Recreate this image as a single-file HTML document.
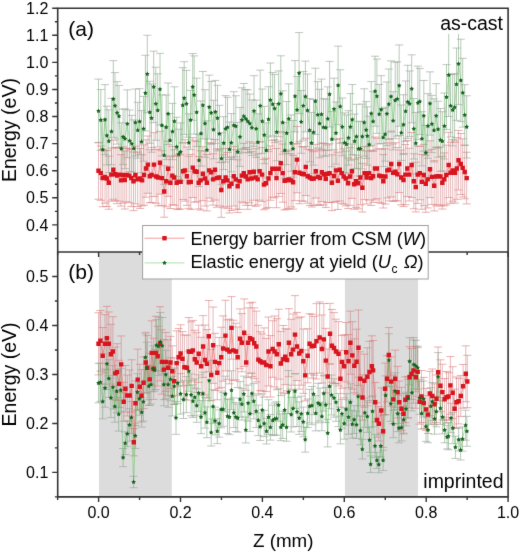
<!DOCTYPE html>
<html><head><meta charset="utf-8"><style>
html,body{margin:0;padding:0;background:#fff;width:520px;height:553px;overflow:hidden}
svg{display:block}
text{font-family:"Liberation Sans",sans-serif}
</style></head><body>
<svg width="520" height="553" viewBox="0 0 520 553">
<defs><filter id="bl" color-interpolation-filters="sRGB" filterUnits="userSpaceOnUse" x="0" y="0" width="520" height="553"><feConvolveMatrix order="3" kernelMatrix="0.01 0.06 0.01 0.06 0.72 0.06 0.01 0.06 0.01" divisor="1" edgeMode="duplicate"/></filter></defs>
<g filter="url(#bl)">
<rect width="520" height="553" fill="#fff"/>
<rect x="99" y="252" width="72.8" height="244.9" fill="#dcdcdc"/>
<rect x="344.9" y="252" width="73.2" height="244.9" fill="#dcdcdc"/>
<defs><clipPath id="ct"><rect x="57.7" y="8.2" width="450.4" height="243.8"/></clipPath>
<clipPath id="cb"><rect x="57.7" y="252" width="450.4" height="244.9"/></clipPath></defs>
<g clip-path="url(#ct)">
<path d="M98.5 142.38V199.22M100.8 145.88V200.32M102.7 149.5V206.7M105 150.68V203.12M106.9 150.48V206.52M108.8 156.18V209.22M111.3 148.06V201.14M113.3 140.34V199.26M115.2 147.69V200.71M117.1 147.52V203.68M119 148.01V201.19M121 154.69V206.11M122.9 146.86V203.14M124.8 150.97V209.03M126.7 148.23V201.77M129.2 148.48V202.72M131.3 149.48V206.52M133.5 151.99V210.61M135.4 146.16V203.84M137.7 152.16V206.64M140.2 148.52V208.48M142.1 154.88V205.92M144 144.88V205.12M146 139.84V197.16M147.9 135.97V193.23M149.8 149.66V202.74M151.7 147.38V202.62M154 132.7V196.5M156.2 149.72V203.28M158.1 149.1V205.9M160 131.32V194.08M161.9 150.74V205.46M164.2 165.79V217.21M166.2 155.86V206.74M168.1 141.28V196.32M170.4 156.87V208.53M172.3 146.4V204.8M174.2 149.79V205.21M176.7 156.4V209M178.7 154.28V209.52M180.6 154.86V208.94M183.1 142.96V199.44M185 139.7V201.1M186.9 147.03V205.37M188.8 156.24V208.36M190.8 154.33V209.47M192.8 137.66V197.54M194.8 140.28V202.12M196.7 141.55V201.85M198.7 156.52V208.88M200.6 150.77V210.03M202.9 146.73V200.67M205 151.01V205.99M206.9 154.48V210.92M209.2 142.72V198.08M211.2 143.38V201.22M213.1 153.75V205.05M215 139.58V200.02M216.9 148.99V207.21M219.2 149.13V205.87M221.3 162.66V217.34M223.3 154.76V207.84M225.6 148.59V206.41M227.5 152.47V208.33M229.4 159.39V213.01M231.5 157.08V210.52M233.8 146.39V206.01M235.8 149.73V209.07M237.7 159.84V212.56M239.6 153.23V209.37M241.9 149.21V201.99M243.8 143.34V202.86M245.8 147.62V205.38M247.7 149.52V209.28M249.6 141.83V202.77M251.5 151.6V205.4M253.8 143.15V200.25M255.8 148.71V206.29M257.7 153.82V204.98M259.6 142.21V200.19M262.1 147.56V201.64M264 159.48V209.72M266 158.21V208.39M268.5 149.45V207.55M270.4 145.98V200.22M272.3 140.39V197.21M274.6 139.71V197.89M276.5 148.51V207.69M278.8 141.18V196.42M280.8 132.72V193.48M282.7 144.04V202.16M284.6 151.67V209.93M286.7 151.24V209.16M288.8 150.09V208.71M291.2 153.86V206.94M293.1 155.49V209.11M294.8 143.98V200.62M297 126.42V192.78M299.4 141.68V203.72M301.9 146.58V200.82M303.8 147.05V201.35M305.8 138.24V195.56M307.7 149.13V203.27M310 149.53V205.47M311.9 150.6V207M313.8 151.7V205.3M315.8 144.34V198.06M318.1 149.12V204.68M320 150.75V205.45M321.9 143.02V201.58M323.8 143.49V204.91M325.8 150.15V207.45M327.7 144.91V202.49M329.6 143.73V202.47M331.9 154.83V210.57M334 149.71V202.29M336 139.21V201.59M337.9 152.13V209.47M339.8 138.61V200.99M341.7 142.9V203.3M343.7 148.77V204.23M345.8 151.09V205.91M348.1 158.02V208.58M350 147.68V205.32M351.9 144.07V198.33M354.2 159.23V209.17M356.2 155.22V207.38M358.1 157.76V208.84M360.4 150.18V204.82M362.3 163.37V212.03M364.6 146.58V199.62M366.7 151.03V203.97M369 146.11V200.09M371.2 150.78V205.42M373.1 150.07V202.33M375 137.07V199.93M376.9 138.3V198.7M379.2 148.82V202.38M381.2 149.05V203.35M383.3 154.61V207.99M385.4 148.9V204.1M387.3 142.85V197.95M389.2 138.73V200.87M391.2 131.13V196.87M393.1 143.96V201.44M395.4 142.69V200.71M397.3 147.47V200.93M399.2 135.47V192.53M401.2 150.17V204.83M403.5 153.45V206.55M405.4 144.54V204.66M407.3 140.45V196.55M409.2 148.22V200.98M411.7 132.53V197.47M413.8 153.82V208.78M415.8 162.28V211.92M417.7 145.84V203.36M419.8 146.45V199.75M421.8 154.53V209.27M423.8 144.33V205.67M425.8 155.33V212.27M427.7 150.83V207.97M430 140.8V197.6M431.9 149.35V204.45M434.2 160.67V210.93M436.2 147.05V205.95M438.1 147.78V204.62M440.4 147.02V205.98M442.3 156.34V209.06M444.2 152.93V205.87M446.3 145.09V204.91M448.7 132.36V197.64M450.6 142.17V203.23M452.7 139.65V201.15M455 142.33V203.07M456.9 137.7V199.3M458.5 130.41V189.99M460.8 133.45V194.55M462.7 138.82V196.98M464.7 145.16V198.84M466.7 152.28V203.92" stroke="rgba(210,115,120,0.5)" stroke-width="1" fill="none"/>
<path d="M94.5 142.38h8M94.5 199.22h8M96.8 145.88h8M96.8 200.32h8M98.7 149.5h8M98.7 206.7h8M101 150.68h8M101 203.12h8M102.9 150.48h8M102.9 206.52h8M104.8 156.18h8M104.8 209.22h8M107.3 148.06h8M107.3 201.14h8M109.3 140.34h8M109.3 199.26h8M111.2 147.69h8M111.2 200.71h8M113.1 147.52h8M113.1 203.68h8M115 148.01h8M115 201.19h8M117 154.69h8M117 206.11h8M118.9 146.86h8M118.9 203.14h8M120.8 150.97h8M120.8 209.03h8M122.7 148.23h8M122.7 201.77h8M125.2 148.48h8M125.2 202.72h8M127.3 149.48h8M127.3 206.52h8M129.5 151.99h8M129.5 210.61h8M131.4 146.16h8M131.4 203.84h8M133.7 152.16h8M133.7 206.64h8M136.2 148.52h8M136.2 208.48h8M138.1 154.88h8M138.1 205.92h8M140 144.88h8M140 205.12h8M142 139.84h8M142 197.16h8M143.9 135.97h8M143.9 193.23h8M145.8 149.66h8M145.8 202.74h8M147.7 147.38h8M147.7 202.62h8M150 132.7h8M150 196.5h8M152.2 149.72h8M152.2 203.28h8M154.1 149.1h8M154.1 205.9h8M156 131.32h8M156 194.08h8M157.9 150.74h8M157.9 205.46h8M160.2 165.79h8M160.2 217.21h8M162.2 155.86h8M162.2 206.74h8M164.1 141.28h8M164.1 196.32h8M166.4 156.87h8M166.4 208.53h8M168.3 146.4h8M168.3 204.8h8M170.2 149.79h8M170.2 205.21h8M172.7 156.4h8M172.7 209h8M174.7 154.28h8M174.7 209.52h8M176.6 154.86h8M176.6 208.94h8M179.1 142.96h8M179.1 199.44h8M181 139.7h8M181 201.1h8M182.9 147.03h8M182.9 205.37h8M184.8 156.24h8M184.8 208.36h8M186.8 154.33h8M186.8 209.47h8M188.8 137.66h8M188.8 197.54h8M190.8 140.28h8M190.8 202.12h8M192.7 141.55h8M192.7 201.85h8M194.7 156.52h8M194.7 208.88h8M196.6 150.77h8M196.6 210.03h8M198.9 146.73h8M198.9 200.67h8M201 151.01h8M201 205.99h8M202.9 154.48h8M202.9 210.92h8M205.2 142.72h8M205.2 198.08h8M207.2 143.38h8M207.2 201.22h8M209.1 153.75h8M209.1 205.05h8M211 139.58h8M211 200.02h8M212.9 148.99h8M212.9 207.21h8M215.2 149.13h8M215.2 205.87h8M217.3 162.66h8M217.3 217.34h8M219.3 154.76h8M219.3 207.84h8M221.6 148.59h8M221.6 206.41h8M223.5 152.47h8M223.5 208.33h8M225.4 159.39h8M225.4 213.01h8M227.5 157.08h8M227.5 210.52h8M229.8 146.39h8M229.8 206.01h8M231.8 149.73h8M231.8 209.07h8M233.7 159.84h8M233.7 212.56h8M235.6 153.23h8M235.6 209.37h8M237.9 149.21h8M237.9 201.99h8M239.8 143.34h8M239.8 202.86h8M241.8 147.62h8M241.8 205.38h8M243.7 149.52h8M243.7 209.28h8M245.6 141.83h8M245.6 202.77h8M247.5 151.6h8M247.5 205.4h8M249.8 143.15h8M249.8 200.25h8M251.8 148.71h8M251.8 206.29h8M253.7 153.82h8M253.7 204.98h8M255.6 142.21h8M255.6 200.19h8M258.1 147.56h8M258.1 201.64h8M260 159.48h8M260 209.72h8M262 158.21h8M262 208.39h8M264.5 149.45h8M264.5 207.55h8M266.4 145.98h8M266.4 200.22h8M268.3 140.39h8M268.3 197.21h8M270.6 139.71h8M270.6 197.89h8M272.5 148.51h8M272.5 207.69h8M274.8 141.18h8M274.8 196.42h8M276.8 132.72h8M276.8 193.48h8M278.7 144.04h8M278.7 202.16h8M280.6 151.67h8M280.6 209.93h8M282.7 151.24h8M282.7 209.16h8M284.8 150.09h8M284.8 208.71h8M287.2 153.86h8M287.2 206.94h8M289.1 155.49h8M289.1 209.11h8M290.8 143.98h8M290.8 200.62h8M293 126.42h8M293 192.78h8M295.4 141.68h8M295.4 203.72h8M297.9 146.58h8M297.9 200.82h8M299.8 147.05h8M299.8 201.35h8M301.8 138.24h8M301.8 195.56h8M303.7 149.13h8M303.7 203.27h8M306 149.53h8M306 205.47h8M307.9 150.6h8M307.9 207h8M309.8 151.7h8M309.8 205.3h8M311.8 144.34h8M311.8 198.06h8M314.1 149.12h8M314.1 204.68h8M316 150.75h8M316 205.45h8M317.9 143.02h8M317.9 201.58h8M319.8 143.49h8M319.8 204.91h8M321.8 150.15h8M321.8 207.45h8M323.7 144.91h8M323.7 202.49h8M325.6 143.73h8M325.6 202.47h8M327.9 154.83h8M327.9 210.57h8M330 149.71h8M330 202.29h8M332 139.21h8M332 201.59h8M333.9 152.13h8M333.9 209.47h8M335.8 138.61h8M335.8 200.99h8M337.7 142.9h8M337.7 203.3h8M339.7 148.77h8M339.7 204.23h8M341.8 151.09h8M341.8 205.91h8M344.1 158.02h8M344.1 208.58h8M346 147.68h8M346 205.32h8M347.9 144.07h8M347.9 198.33h8M350.2 159.23h8M350.2 209.17h8M352.2 155.22h8M352.2 207.38h8M354.1 157.76h8M354.1 208.84h8M356.4 150.18h8M356.4 204.82h8M358.3 163.37h8M358.3 212.03h8M360.6 146.58h8M360.6 199.62h8M362.7 151.03h8M362.7 203.97h8M365 146.11h8M365 200.09h8M367.2 150.78h8M367.2 205.42h8M369.1 150.07h8M369.1 202.33h8M371 137.07h8M371 199.93h8M372.9 138.3h8M372.9 198.7h8M375.2 148.82h8M375.2 202.38h8M377.2 149.05h8M377.2 203.35h8M379.3 154.61h8M379.3 207.99h8M381.4 148.9h8M381.4 204.1h8M383.3 142.85h8M383.3 197.95h8M385.2 138.73h8M385.2 200.87h8M387.2 131.13h8M387.2 196.87h8M389.1 143.96h8M389.1 201.44h8M391.4 142.69h8M391.4 200.71h8M393.3 147.47h8M393.3 200.93h8M395.2 135.47h8M395.2 192.53h8M397.2 150.17h8M397.2 204.83h8M399.5 153.45h8M399.5 206.55h8M401.4 144.54h8M401.4 204.66h8M403.3 140.45h8M403.3 196.55h8M405.2 148.22h8M405.2 200.98h8M407.7 132.53h8M407.7 197.47h8M409.8 153.82h8M409.8 208.78h8M411.8 162.28h8M411.8 211.92h8M413.7 145.84h8M413.7 203.36h8M415.8 146.45h8M415.8 199.75h8M417.8 154.53h8M417.8 209.27h8M419.8 144.33h8M419.8 205.67h8M421.8 155.33h8M421.8 212.27h8M423.7 150.83h8M423.7 207.97h8M426 140.8h8M426 197.6h8M427.9 149.35h8M427.9 204.45h8M430.2 160.67h8M430.2 210.93h8M432.2 147.05h8M432.2 205.95h8M434.1 147.78h8M434.1 204.62h8M436.4 147.02h8M436.4 205.98h8M438.3 156.34h8M438.3 209.06h8M440.2 152.93h8M440.2 205.87h8M442.3 145.09h8M442.3 204.91h8M444.7 132.36h8M444.7 197.64h8M446.6 142.17h8M446.6 203.23h8M448.7 139.65h8M448.7 201.15h8M451 142.33h8M451 203.07h8M452.9 137.7h8M452.9 199.3h8M454.5 130.41h8M454.5 189.99h8M456.8 133.45h8M456.8 194.55h8M458.7 138.82h8M458.7 196.98h8M460.7 145.16h8M460.7 198.84h8M462.7 152.28h8M462.7 203.92h8" stroke="rgba(220,120,120,0.6)" stroke-width="1" fill="none"/>
<polyline points="98.5,170.8 100.8,173.1 102.7,178.1 105,176.9 106.9,178.5 108.8,182.7 111.3,174.6 113.3,169.8 115.2,174.2 117.1,175.6 119,174.6 121,180.4 122.9,175 124.8,180 126.7,175 129.2,175.6 131.3,178 133.5,181.3 135.4,175 137.7,179.4 140.2,178.5 142.1,180.4 144,175 146,168.5 147.9,164.6 149.8,176.2 151.7,175 154,164.6 156.2,176.5 158.1,177.5 160,162.7 161.9,178.1 164.2,191.5 166.2,181.3 168.1,168.8 170.4,182.7 172.3,175.6 174.2,177.5 176.7,182.7 178.7,181.9 180.6,181.9 183.1,171.2 185,170.4 186.9,176.2 188.8,182.3 190.8,181.9 192.8,167.6 194.8,171.2 196.7,171.7 198.7,182.7 200.6,180.4 202.9,173.7 205,178.5 206.9,182.7 209.2,170.4 211.2,172.3 213.1,179.4 215,169.8 216.9,178.1 219.2,177.5 221.3,190 223.3,181.3 225.6,177.5 227.5,180.4 229.4,186.2 231.5,183.8 233.8,176.2 235.8,179.4 237.7,186.2 239.6,181.3 241.9,175.6 243.8,173.1 245.8,176.5 247.7,179.4 249.6,172.3 251.5,178.5 253.8,171.7 255.8,177.5 257.7,179.4 259.6,171.2 262.1,174.6 264,184.6 266,183.3 268.5,178.5 270.4,173.1 272.3,168.8 274.6,168.8 276.5,178.1 278.8,168.8 280.8,163.1 282.7,173.1 284.6,180.8 286.7,180.2 288.8,179.4 291.2,180.4 293.1,182.3 294.8,172.3 297,159.6 299.4,172.7 301.9,173.7 303.8,174.2 305.8,166.9 307.7,176.2 310,177.5 311.9,178.8 313.8,178.5 315.8,171.2 318.1,176.9 320,178.1 321.9,172.3 323.8,174.2 325.8,178.8 327.7,173.7 329.6,173.1 331.9,182.7 334,176 336,170.4 337.9,180.8 339.8,169.8 341.7,173.1 343.7,176.5 345.8,178.5 348.1,183.3 350,176.5 351.9,171.2 354.2,184.2 356.2,181.3 358.1,183.3 360.4,177.5 362.3,187.7 364.6,173.1 366.7,177.5 369,173.1 371.2,178.1 373.1,176.2 375,168.5 376.9,168.5 379.2,175.6 381.2,176.2 383.3,181.3 385.4,176.5 387.3,170.4 389.2,169.8 391.2,164 393.1,172.7 395.4,171.7 397.3,174.2 399.2,164 401.2,177.5 403.5,180 405.4,174.6 407.3,168.5 409.2,174.6 411.7,165 413.8,181.3 415.8,187.1 417.7,174.6 419.8,173.1 421.8,181.9 423.8,175 425.8,183.8 427.7,179.4 430,169.2 431.9,176.9 434.2,185.8 436.2,176.5 438.1,176.2 440.4,176.5 442.3,182.7 444.2,179.4 446.3,175 448.7,165 450.6,172.7 452.7,170.4 455,172.7 456.9,168.5 458.5,160.2 460.8,164 462.7,167.9 464.7,172 466.7,178.1" stroke="rgba(235,90,90,0.6)" stroke-width="1" fill="none"/>
<path d="M98.5 79.13V142.87M100.8 89.55V150.45M102.7 120.99V178.21M105 84.62V154.58M106.9 106.26V164.94M108.8 109.87V172.53M111.5 98.28V164.72M113.3 60.66V137.34M115 72.6V139M117.1 81.69V144.11M119 85.42V146.98M121.3 122.81V174.79M123.1 109.19V164.61M125 108.91V168.69M127.3 89.86V157.74M129.6 109.96V171.64M131.8 115.38V172.02M133.8 119.94V177.06M135.4 88.99V156.01M137.7 102.27V158.13M139.6 88.71V154.29M141.5 110.61V172.79M143.5 96.4V161.2M145.4 55.27V130.93M147.3 35.28V112.72M149.8 81.29V143.31M151.5 83.96V152.24M153.7 51.18V122.62M155.8 67.31V140.29M157.7 73.82V146.98M160 53.35V125.05M161.9 94.83V155.97M164.2 126.1V184.3M166.2 95.02V159.58M168.1 83.05V144.55M170 113.63V167.17M172.5 103.35V159.65M174.4 86.81V155.59M176.7 117.23V176.57M178.7 129.24V179.16M180.6 122.92V180.88M182.7 67.7V142.7M184.2 61.72V134.48M186.5 70.41V137.19M188.8 113.84V171.56M190.6 90.37V149.63M192.7 53.54V120.26M194.2 55.89V134.11M196.7 78.16V146.44M199 134.33V186.47M201 100.94V166.06M202.9 71.44V138.96M205 89.7V157.3M206.9 120.72V179.28M209.2 75.14V139.06M211.2 81.49V144.31M213.5 100.31V158.89M215.4 80.42V143.38M217.5 85.27V150.93M219.4 105.32V162.28M221.5 132.71V184.29M223.7 116.68V169.52M225.6 95.61V161.99M227.5 97.31V157.29M229.6 122.05V176.75M231.3 113.64V171.76M233.8 91.7V159.1M235.8 95.75V156.85M237.7 122.42V181.38M240 107.44V166.36M241.9 87.81V152.19M243.8 83.49V148.91M245.8 89.61V147.79M247.7 89.77V152.63M249.8 94.03V152.97M251.9 99.92V155.48M254 75.67V146.33M256.2 100.14V157.46M257.9 113.81V170.79M260.2 70.14V141.46M262.3 89.03V153.37M264.3 106.3V163.7M266.3 122.87V177.93M268.5 86.73V151.67M270.4 63.02V136.98M272.7 72.55V135.85M274.6 74.38V142.62M276.7 103.44V160.76M278.7 70.92V136.68M280.8 55.81V131.59M282.7 90.84V154.16M284.8 122.63V178.17M286.7 101.51V164.69M288.7 83.86V153.54M291.2 114.9V171.3M293 120.51V177.09M295 60.6V131.8M297.1 76.43V143.57M299.1 32.57V113.63M301.2 90.5V153.3M303.3 71.45V140.15M305.4 61.14V131.86M307.5 74.02V146.78M309.6 98.53V161.87M311.5 112.43V173.77M313.5 99.49V165.11M315.4 68.18V134.42M317.7 81.64V147.96M319.6 89.25V157.75M321.5 79.11V149.29M323.5 98.65V155.95M325.8 99.2V156.2M327.7 86.89V150.51M329.6 61.41V126.99M331.9 111.6V166.8M334 78.23V139.77M336 102.06V164.14M338.1 46.11V124.69M340.2 69.78V143.22M342.3 98.08V155.72M344.6 112.88V172.52M346.5 114.93V173.47M348.5 110.69V165.11M350.4 93.57V160.23M352.3 84.55V154.65M354.6 114.01V168.39M356.5 104.31V168.69M358.5 121.69V175.91M360.4 121.2V176.4M362.3 104.09V168.91M364.2 88.78V156.22M366.2 101.57V158.43M367.3 106.82V165.18M369.2 116.21V172.99M371.2 81.6V145.4M373.1 91.67V151.33M375.1 56.21V126.19M376.9 59.06V133.34M379.2 84.5V143.9M381.2 75.69V143.51M383.2 108.48V166.52M385.2 107.22V161.18M386.9 81.99V145.61M388.8 68.99V139.41M391 60.9V132.1M393.1 91.71V149.89M395.2 62.08V138.72M397.3 61.83V136.17M399.2 44.95V126.25M401.3 104.99V160.41M403.5 94.77V154.43M405.6 80.96V141.44M407.7 65.26V138.54M409.6 70.96V136.64M411.7 54.85V122.75M413.8 98.61V158.99M415.8 112.46V174.14M417.9 66.14V139.66M419.8 68.41V134.59M421.9 111.68V165.92M423.8 80.45V151.15M425.8 125.46V180.34M427.9 93.66V158.34M430 71.86V135.14M431.9 95.39V152.61M434 98.82V161.98M436.2 83.67V147.93M438.1 101.21V157.19M440.4 108.47V171.53M442.3 111.73V170.87M444.4 93.03V158.97M446.5 64.62V129.58M448.7 33.5V116.5M450.6 74.64V136.96M452.7 74.08V145.92M454.6 73.72V140.88M456.5 48.04V120.36M458.5 22.95V104.65M460.8 39.23V121.57M462.7 58.29V127.11M464.7 84.69V145.31M466.7 95.78V158.02" stroke="rgba(120,160,120,0.55)" stroke-width="1" fill="none"/>
<path d="M94.5 79.13h8M94.5 142.87h8M96.8 89.55h8M96.8 150.45h8M98.7 120.99h8M98.7 178.21h8M101 84.62h8M101 154.58h8M102.9 106.26h8M102.9 164.94h8M104.8 109.87h8M104.8 172.53h8M107.5 98.28h8M107.5 164.72h8M109.3 60.66h8M109.3 137.34h8M111 72.6h8M111 139h8M113.1 81.69h8M113.1 144.11h8M115 85.42h8M115 146.98h8M117.3 122.81h8M117.3 174.79h8M119.1 109.19h8M119.1 164.61h8M121 108.91h8M121 168.69h8M123.3 89.86h8M123.3 157.74h8M125.6 109.96h8M125.6 171.64h8M127.8 115.38h8M127.8 172.02h8M129.8 119.94h8M129.8 177.06h8M131.4 88.99h8M131.4 156.01h8M133.7 102.27h8M133.7 158.13h8M135.6 88.71h8M135.6 154.29h8M137.5 110.61h8M137.5 172.79h8M139.5 96.4h8M139.5 161.2h8M141.4 55.27h8M141.4 130.93h8M143.3 35.28h8M143.3 112.72h8M145.8 81.29h8M145.8 143.31h8M147.5 83.96h8M147.5 152.24h8M149.7 51.18h8M149.7 122.62h8M151.8 67.31h8M151.8 140.29h8M153.7 73.82h8M153.7 146.98h8M156 53.35h8M156 125.05h8M157.9 94.83h8M157.9 155.97h8M160.2 126.1h8M160.2 184.3h8M162.2 95.02h8M162.2 159.58h8M164.1 83.05h8M164.1 144.55h8M166 113.63h8M166 167.17h8M168.5 103.35h8M168.5 159.65h8M170.4 86.81h8M170.4 155.59h8M172.7 117.23h8M172.7 176.57h8M174.7 129.24h8M174.7 179.16h8M176.6 122.92h8M176.6 180.88h8M178.7 67.7h8M178.7 142.7h8M180.2 61.72h8M180.2 134.48h8M182.5 70.41h8M182.5 137.19h8M184.8 113.84h8M184.8 171.56h8M186.6 90.37h8M186.6 149.63h8M188.7 53.54h8M188.7 120.26h8M190.2 55.89h8M190.2 134.11h8M192.7 78.16h8M192.7 146.44h8M195 134.33h8M195 186.47h8M197 100.94h8M197 166.06h8M198.9 71.44h8M198.9 138.96h8M201 89.7h8M201 157.3h8M202.9 120.72h8M202.9 179.28h8M205.2 75.14h8M205.2 139.06h8M207.2 81.49h8M207.2 144.31h8M209.5 100.31h8M209.5 158.89h8M211.4 80.42h8M211.4 143.38h8M213.5 85.27h8M213.5 150.93h8M215.4 105.32h8M215.4 162.28h8M217.5 132.71h8M217.5 184.29h8M219.7 116.68h8M219.7 169.52h8M221.6 95.61h8M221.6 161.99h8M223.5 97.31h8M223.5 157.29h8M225.6 122.05h8M225.6 176.75h8M227.3 113.64h8M227.3 171.76h8M229.8 91.7h8M229.8 159.1h8M231.8 95.75h8M231.8 156.85h8M233.7 122.42h8M233.7 181.38h8M236 107.44h8M236 166.36h8M237.9 87.81h8M237.9 152.19h8M239.8 83.49h8M239.8 148.91h8M241.8 89.61h8M241.8 147.79h8M243.7 89.77h8M243.7 152.63h8M245.8 94.03h8M245.8 152.97h8M247.9 99.92h8M247.9 155.48h8M250 75.67h8M250 146.33h8M252.2 100.14h8M252.2 157.46h8M253.9 113.81h8M253.9 170.79h8M256.2 70.14h8M256.2 141.46h8M258.3 89.03h8M258.3 153.37h8M260.3 106.3h8M260.3 163.7h8M262.3 122.87h8M262.3 177.93h8M264.5 86.73h8M264.5 151.67h8M266.4 63.02h8M266.4 136.98h8M268.7 72.55h8M268.7 135.85h8M270.6 74.38h8M270.6 142.62h8M272.7 103.44h8M272.7 160.76h8M274.7 70.92h8M274.7 136.68h8M276.8 55.81h8M276.8 131.59h8M278.7 90.84h8M278.7 154.16h8M280.8 122.63h8M280.8 178.17h8M282.7 101.51h8M282.7 164.69h8M284.7 83.86h8M284.7 153.54h8M287.2 114.9h8M287.2 171.3h8M289 120.51h8M289 177.09h8M291 60.6h8M291 131.8h8M293.1 76.43h8M293.1 143.57h8M295.1 32.57h8M295.1 113.63h8M297.2 90.5h8M297.2 153.3h8M299.3 71.45h8M299.3 140.15h8M301.4 61.14h8M301.4 131.86h8M303.5 74.02h8M303.5 146.78h8M305.6 98.53h8M305.6 161.87h8M307.5 112.43h8M307.5 173.77h8M309.5 99.49h8M309.5 165.11h8M311.4 68.18h8M311.4 134.42h8M313.7 81.64h8M313.7 147.96h8M315.6 89.25h8M315.6 157.75h8M317.5 79.11h8M317.5 149.29h8M319.5 98.65h8M319.5 155.95h8M321.8 99.2h8M321.8 156.2h8M323.7 86.89h8M323.7 150.51h8M325.6 61.41h8M325.6 126.99h8M327.9 111.6h8M327.9 166.8h8M330 78.23h8M330 139.77h8M332 102.06h8M332 164.14h8M334.1 46.11h8M334.1 124.69h8M336.2 69.78h8M336.2 143.22h8M338.3 98.08h8M338.3 155.72h8M340.6 112.88h8M340.6 172.52h8M342.5 114.93h8M342.5 173.47h8M344.5 110.69h8M344.5 165.11h8M346.4 93.57h8M346.4 160.23h8M348.3 84.55h8M348.3 154.65h8M350.6 114.01h8M350.6 168.39h8M352.5 104.31h8M352.5 168.69h8M354.5 121.69h8M354.5 175.91h8M356.4 121.2h8M356.4 176.4h8M358.3 104.09h8M358.3 168.91h8M360.2 88.78h8M360.2 156.22h8M362.2 101.57h8M362.2 158.43h8M363.3 106.82h8M363.3 165.18h8M365.2 116.21h8M365.2 172.99h8M367.2 81.6h8M367.2 145.4h8M369.1 91.67h8M369.1 151.33h8M371.1 56.21h8M371.1 126.19h8M372.9 59.06h8M372.9 133.34h8M375.2 84.5h8M375.2 143.9h8M377.2 75.69h8M377.2 143.51h8M379.2 108.48h8M379.2 166.52h8M381.2 107.22h8M381.2 161.18h8M382.9 81.99h8M382.9 145.61h8M384.8 68.99h8M384.8 139.41h8M387 60.9h8M387 132.1h8M389.1 91.71h8M389.1 149.89h8M391.2 62.08h8M391.2 138.72h8M393.3 61.83h8M393.3 136.17h8M395.2 44.95h8M395.2 126.25h8M397.3 104.99h8M397.3 160.41h8M399.5 94.77h8M399.5 154.43h8M401.6 80.96h8M401.6 141.44h8M403.7 65.26h8M403.7 138.54h8M405.6 70.96h8M405.6 136.64h8M407.7 54.85h8M407.7 122.75h8M409.8 98.61h8M409.8 158.99h8M411.8 112.46h8M411.8 174.14h8M413.9 66.14h8M413.9 139.66h8M415.8 68.41h8M415.8 134.59h8M417.9 111.68h8M417.9 165.92h8M419.8 80.45h8M419.8 151.15h8M421.8 125.46h8M421.8 180.34h8M423.9 93.66h8M423.9 158.34h8M426 71.86h8M426 135.14h8M427.9 95.39h8M427.9 152.61h8M430 98.82h8M430 161.98h8M432.2 83.67h8M432.2 147.93h8M434.1 101.21h8M434.1 157.19h8M436.4 108.47h8M436.4 171.53h8M438.3 111.73h8M438.3 170.87h8M440.4 93.03h8M440.4 158.97h8M442.5 64.62h8M442.5 129.58h8M444.7 33.5h8M444.7 116.5h8M446.6 74.64h8M446.6 136.96h8M448.7 74.08h8M448.7 145.92h8M450.6 73.72h8M450.6 140.88h8M452.5 48.04h8M452.5 120.36h8M454.5 22.95h8M454.5 104.65h8M456.8 39.23h8M456.8 121.57h8M458.7 58.29h8M458.7 127.11h8M460.7 84.69h8M460.7 145.31h8M462.7 95.78h8M462.7 158.02h8" stroke="rgba(150,160,150,0.6)" stroke-width="1" fill="none"/>
<polyline points="98.5,111 100.8,120 102.7,149.6 105,119.6 106.9,135.6 108.8,141.2 111.5,131.5 113.3,99 115,105.8 117.1,112.9 119,116.2 121.3,148.8 123.1,136.9 125,138.8 127.3,123.8 129.6,140.8 131.8,143.7 133.8,148.5 135.4,122.5 137.7,130.2 139.6,121.5 141.5,141.7 143.5,128.8 145.4,93.1 147.3,74 149.8,112.3 151.5,118.1 153.7,86.9 155.8,103.8 157.7,110.4 160,89.2 161.9,125.4 164.2,155.2 166.2,127.3 168.1,113.8 170,140.4 172.5,131.5 174.4,121.2 176.7,146.9 178.7,154.2 180.6,151.9 182.7,105.2 184.2,98.1 186.5,103.8 188.8,142.7 190.6,120 192.7,86.9 194.2,95 196.7,112.3 199,160.4 201,133.5 202.9,105.2 205,123.5 206.9,150 209.2,107.1 211.2,112.9 213.5,129.6 215.4,111.9 217.5,118.1 219.4,133.8 221.5,158.5 223.7,143.1 225.6,128.8 227.5,127.3 229.6,149.4 231.3,142.7 233.8,125.4 235.8,126.3 237.7,151.9 240,136.9 241.9,120 243.8,116.2 245.8,118.7 247.7,121.2 249.8,123.5 251.9,127.7 254,111 256.2,128.8 257.9,142.3 260.2,105.8 262.3,121.2 264.3,135 266.3,150.4 268.5,119.2 270.4,100 272.7,104.2 274.6,108.5 276.7,132.1 278.7,103.8 280.8,93.7 282.7,122.5 284.8,150.4 286.7,133.1 288.7,118.7 291.2,143.1 293,148.8 295,96.2 297.1,110 299.1,73.1 301.2,121.9 303.3,105.8 305.4,96.5 307.5,110.4 309.6,130.2 311.5,143.1 313.5,132.3 315.4,101.3 317.7,114.8 319.6,123.5 321.5,114.2 323.5,127.3 325.8,127.7 327.7,118.7 329.6,94.2 331.9,139.2 334,109 336,133.1 338.1,85.4 340.2,106.5 342.3,126.9 344.6,142.7 346.5,144.2 348.5,137.9 350.4,126.9 352.3,119.6 354.6,141.2 356.5,136.5 358.5,148.8 360.4,148.8 362.3,136.5 364.2,122.5 366.2,130 367.3,136 369.2,144.6 371.2,113.5 373.1,121.5 375.1,91.2 376.9,96.2 379.2,114.2 381.2,109.6 383.2,137.5 385.2,134.2 386.9,113.8 388.8,104.2 391,96.5 393.1,120.8 395.2,100.4 397.3,99 399.2,85.6 401.3,132.7 403.5,124.6 405.6,111.2 407.7,101.9 409.6,103.8 411.7,88.8 413.8,128.8 415.8,143.3 417.9,102.9 419.8,101.5 421.9,138.8 423.8,115.8 425.8,152.9 427.9,126 430,103.5 431.9,124 434,130.4 436.2,115.8 438.1,129.2 440.4,140 442.3,141.3 444.4,126 446.5,97.1 448.7,75 450.6,105.8 452.7,110 454.6,107.3 456.5,84.2 458.5,63.8 460.8,80.4 462.7,92.7 464.7,115 466.7,126.9" stroke="rgba(70,190,70,0.45)" stroke-width="1" fill="none"/>
<path d="M96.3 168.6h4.4v4.4h-4.4zM98.6 170.9h4.4v4.4h-4.4zM100.5 175.9h4.4v4.4h-4.4zM102.8 174.7h4.4v4.4h-4.4zM104.7 176.3h4.4v4.4h-4.4zM106.6 180.5h4.4v4.4h-4.4zM109.1 172.4h4.4v4.4h-4.4zM111.1 167.6h4.4v4.4h-4.4zM113 172h4.4v4.4h-4.4zM114.9 173.4h4.4v4.4h-4.4zM116.8 172.4h4.4v4.4h-4.4zM118.8 178.2h4.4v4.4h-4.4zM120.7 172.8h4.4v4.4h-4.4zM122.6 177.8h4.4v4.4h-4.4zM124.5 172.8h4.4v4.4h-4.4zM127 173.4h4.4v4.4h-4.4zM129.1 175.8h4.4v4.4h-4.4zM131.3 179.1h4.4v4.4h-4.4zM133.2 172.8h4.4v4.4h-4.4zM135.5 177.2h4.4v4.4h-4.4zM138 176.3h4.4v4.4h-4.4zM139.9 178.2h4.4v4.4h-4.4zM141.8 172.8h4.4v4.4h-4.4zM143.8 166.3h4.4v4.4h-4.4zM145.7 162.4h4.4v4.4h-4.4zM147.6 174h4.4v4.4h-4.4zM149.5 172.8h4.4v4.4h-4.4zM151.8 162.4h4.4v4.4h-4.4zM154 174.3h4.4v4.4h-4.4zM155.9 175.3h4.4v4.4h-4.4zM157.8 160.5h4.4v4.4h-4.4zM159.7 175.9h4.4v4.4h-4.4zM162 189.3h4.4v4.4h-4.4zM164 179.1h4.4v4.4h-4.4zM165.9 166.6h4.4v4.4h-4.4zM168.2 180.5h4.4v4.4h-4.4zM170.1 173.4h4.4v4.4h-4.4zM172 175.3h4.4v4.4h-4.4zM174.5 180.5h4.4v4.4h-4.4zM176.5 179.7h4.4v4.4h-4.4zM178.4 179.7h4.4v4.4h-4.4zM180.9 169h4.4v4.4h-4.4zM182.8 168.2h4.4v4.4h-4.4zM184.7 174h4.4v4.4h-4.4zM186.6 180.1h4.4v4.4h-4.4zM188.6 179.7h4.4v4.4h-4.4zM190.6 165.4h4.4v4.4h-4.4zM192.6 169h4.4v4.4h-4.4zM194.5 169.5h4.4v4.4h-4.4zM196.5 180.5h4.4v4.4h-4.4zM198.4 178.2h4.4v4.4h-4.4zM200.7 171.5h4.4v4.4h-4.4zM202.8 176.3h4.4v4.4h-4.4zM204.7 180.5h4.4v4.4h-4.4zM207 168.2h4.4v4.4h-4.4zM209 170.1h4.4v4.4h-4.4zM210.9 177.2h4.4v4.4h-4.4zM212.8 167.6h4.4v4.4h-4.4zM214.7 175.9h4.4v4.4h-4.4zM217 175.3h4.4v4.4h-4.4zM219.1 187.8h4.4v4.4h-4.4zM221.1 179.1h4.4v4.4h-4.4zM223.4 175.3h4.4v4.4h-4.4zM225.3 178.2h4.4v4.4h-4.4zM227.2 184h4.4v4.4h-4.4zM229.3 181.6h4.4v4.4h-4.4zM231.6 174h4.4v4.4h-4.4zM233.6 177.2h4.4v4.4h-4.4zM235.5 184h4.4v4.4h-4.4zM237.4 179.1h4.4v4.4h-4.4zM239.7 173.4h4.4v4.4h-4.4zM241.6 170.9h4.4v4.4h-4.4zM243.6 174.3h4.4v4.4h-4.4zM245.5 177.2h4.4v4.4h-4.4zM247.4 170.1h4.4v4.4h-4.4zM249.3 176.3h4.4v4.4h-4.4zM251.6 169.5h4.4v4.4h-4.4zM253.6 175.3h4.4v4.4h-4.4zM255.5 177.2h4.4v4.4h-4.4zM257.4 169h4.4v4.4h-4.4zM259.9 172.4h4.4v4.4h-4.4zM261.8 182.4h4.4v4.4h-4.4zM263.8 181.1h4.4v4.4h-4.4zM266.3 176.3h4.4v4.4h-4.4zM268.2 170.9h4.4v4.4h-4.4zM270.1 166.6h4.4v4.4h-4.4zM272.4 166.6h4.4v4.4h-4.4zM274.3 175.9h4.4v4.4h-4.4zM276.6 166.6h4.4v4.4h-4.4zM278.6 160.9h4.4v4.4h-4.4zM280.5 170.9h4.4v4.4h-4.4zM282.4 178.6h4.4v4.4h-4.4zM284.5 178h4.4v4.4h-4.4zM286.6 177.2h4.4v4.4h-4.4zM289 178.2h4.4v4.4h-4.4zM290.9 180.1h4.4v4.4h-4.4zM292.6 170.1h4.4v4.4h-4.4zM294.8 157.4h4.4v4.4h-4.4zM297.2 170.5h4.4v4.4h-4.4zM299.7 171.5h4.4v4.4h-4.4zM301.6 172h4.4v4.4h-4.4zM303.6 164.7h4.4v4.4h-4.4zM305.5 174h4.4v4.4h-4.4zM307.8 175.3h4.4v4.4h-4.4zM309.7 176.6h4.4v4.4h-4.4zM311.6 176.3h4.4v4.4h-4.4zM313.6 169h4.4v4.4h-4.4zM315.9 174.7h4.4v4.4h-4.4zM317.8 175.9h4.4v4.4h-4.4zM319.7 170.1h4.4v4.4h-4.4zM321.6 172h4.4v4.4h-4.4zM323.6 176.6h4.4v4.4h-4.4zM325.5 171.5h4.4v4.4h-4.4zM327.4 170.9h4.4v4.4h-4.4zM329.7 180.5h4.4v4.4h-4.4zM331.8 173.8h4.4v4.4h-4.4zM333.8 168.2h4.4v4.4h-4.4zM335.7 178.6h4.4v4.4h-4.4zM337.6 167.6h4.4v4.4h-4.4zM339.5 170.9h4.4v4.4h-4.4zM341.5 174.3h4.4v4.4h-4.4zM343.6 176.3h4.4v4.4h-4.4zM345.9 181.1h4.4v4.4h-4.4zM347.8 174.3h4.4v4.4h-4.4zM349.7 169h4.4v4.4h-4.4zM352 182h4.4v4.4h-4.4zM354 179.1h4.4v4.4h-4.4zM355.9 181.1h4.4v4.4h-4.4zM358.2 175.3h4.4v4.4h-4.4zM360.1 185.5h4.4v4.4h-4.4zM362.4 170.9h4.4v4.4h-4.4zM364.5 175.3h4.4v4.4h-4.4zM366.8 170.9h4.4v4.4h-4.4zM369 175.9h4.4v4.4h-4.4zM370.9 174h4.4v4.4h-4.4zM372.8 166.3h4.4v4.4h-4.4zM374.7 166.3h4.4v4.4h-4.4zM377 173.4h4.4v4.4h-4.4zM379 174h4.4v4.4h-4.4zM381.1 179.1h4.4v4.4h-4.4zM383.2 174.3h4.4v4.4h-4.4zM385.1 168.2h4.4v4.4h-4.4zM387 167.6h4.4v4.4h-4.4zM389 161.8h4.4v4.4h-4.4zM390.9 170.5h4.4v4.4h-4.4zM393.2 169.5h4.4v4.4h-4.4zM395.1 172h4.4v4.4h-4.4zM397 161.8h4.4v4.4h-4.4zM399 175.3h4.4v4.4h-4.4zM401.3 177.8h4.4v4.4h-4.4zM403.2 172.4h4.4v4.4h-4.4zM405.1 166.3h4.4v4.4h-4.4zM407 172.4h4.4v4.4h-4.4zM409.5 162.8h4.4v4.4h-4.4zM411.6 179.1h4.4v4.4h-4.4zM413.6 184.9h4.4v4.4h-4.4zM415.5 172.4h4.4v4.4h-4.4zM417.6 170.9h4.4v4.4h-4.4zM419.6 179.7h4.4v4.4h-4.4zM421.6 172.8h4.4v4.4h-4.4zM423.6 181.6h4.4v4.4h-4.4zM425.5 177.2h4.4v4.4h-4.4zM427.8 167h4.4v4.4h-4.4zM429.7 174.7h4.4v4.4h-4.4zM432 183.6h4.4v4.4h-4.4zM434 174.3h4.4v4.4h-4.4zM435.9 174h4.4v4.4h-4.4zM438.2 174.3h4.4v4.4h-4.4zM440.1 180.5h4.4v4.4h-4.4zM442 177.2h4.4v4.4h-4.4zM444.1 172.8h4.4v4.4h-4.4zM446.5 162.8h4.4v4.4h-4.4zM448.4 170.5h4.4v4.4h-4.4zM450.5 168.2h4.4v4.4h-4.4zM452.8 170.5h4.4v4.4h-4.4zM454.7 166.3h4.4v4.4h-4.4zM456.3 158h4.4v4.4h-4.4zM458.6 161.8h4.4v4.4h-4.4zM460.5 165.7h4.4v4.4h-4.4zM462.5 169.8h4.4v4.4h-4.4zM464.5 175.9h4.4v4.4h-4.4z" fill="#d8141e"/>
<path d="M98.5 108.6L99.26 109.95L100.78 110.26L99.74 111.4L99.91 112.94L98.5 112.3L97.09 112.94L97.26 111.4L96.22 110.26L97.74 109.95zM100.8 117.6L101.56 118.95L103.08 119.26L102.04 120.4L102.21 121.94L100.8 121.3L99.39 121.94L99.56 120.4L98.52 119.26L100.04 118.95zM102.7 147.2L103.46 148.55L104.98 148.86L103.94 150L104.11 151.54L102.7 150.9L101.29 151.54L101.46 150L100.42 148.86L101.94 148.55zM105 117.2L105.76 118.55L107.28 118.86L106.24 120L106.41 121.54L105 120.9L103.59 121.54L103.76 120L102.72 118.86L104.24 118.55zM106.9 133.2L107.66 134.55L109.18 134.86L108.14 136L108.31 137.54L106.9 136.9L105.49 137.54L105.66 136L104.62 134.86L106.14 134.55zM108.8 138.8L109.56 140.15L111.08 140.46L110.04 141.6L110.21 143.14L108.8 142.5L107.39 143.14L107.56 141.6L106.52 140.46L108.04 140.15zM111.5 129.1L112.26 130.45L113.78 130.76L112.74 131.9L112.91 133.44L111.5 132.8L110.09 133.44L110.26 131.9L109.22 130.76L110.74 130.45zM113.3 96.6L114.06 97.95L115.58 98.26L114.54 99.4L114.71 100.94L113.3 100.3L111.89 100.94L112.06 99.4L111.02 98.26L112.54 97.95zM115 103.4L115.76 104.75L117.28 105.06L116.24 106.2L116.41 107.74L115 107.1L113.59 107.74L113.76 106.2L112.72 105.06L114.24 104.75zM117.1 110.5L117.86 111.85L119.38 112.16L118.34 113.3L118.51 114.84L117.1 114.2L115.69 114.84L115.86 113.3L114.82 112.16L116.34 111.85zM119 113.8L119.76 115.15L121.28 115.46L120.24 116.6L120.41 118.14L119 117.5L117.59 118.14L117.76 116.6L116.72 115.46L118.24 115.15zM121.3 146.4L122.06 147.75L123.58 148.06L122.54 149.2L122.71 150.74L121.3 150.1L119.89 150.74L120.06 149.2L119.02 148.06L120.54 147.75zM123.1 134.5L123.86 135.85L125.38 136.16L124.34 137.3L124.51 138.84L123.1 138.2L121.69 138.84L121.86 137.3L120.82 136.16L122.34 135.85zM125 136.4L125.76 137.75L127.28 138.06L126.24 139.2L126.41 140.74L125 140.1L123.59 140.74L123.76 139.2L122.72 138.06L124.24 137.75zM127.3 121.4L128.06 122.75L129.58 123.06L128.54 124.2L128.71 125.74L127.3 125.1L125.89 125.74L126.06 124.2L125.02 123.06L126.54 122.75zM129.6 138.4L130.36 139.75L131.88 140.06L130.84 141.2L131.01 142.74L129.6 142.1L128.19 142.74L128.36 141.2L127.32 140.06L128.84 139.75zM131.8 141.3L132.56 142.65L134.08 142.96L133.04 144.1L133.21 145.64L131.8 145L130.39 145.64L130.56 144.1L129.52 142.96L131.04 142.65zM133.8 146.1L134.56 147.45L136.08 147.76L135.04 148.9L135.21 150.44L133.8 149.8L132.39 150.44L132.56 148.9L131.52 147.76L133.04 147.45zM135.4 120.1L136.16 121.45L137.68 121.76L136.64 122.9L136.81 124.44L135.4 123.8L133.99 124.44L134.16 122.9L133.12 121.76L134.64 121.45zM137.7 127.8L138.46 129.15L139.98 129.46L138.94 130.6L139.11 132.14L137.7 131.5L136.29 132.14L136.46 130.6L135.42 129.46L136.94 129.15zM139.6 119.1L140.36 120.45L141.88 120.76L140.84 121.9L141.01 123.44L139.6 122.8L138.19 123.44L138.36 121.9L137.32 120.76L138.84 120.45zM141.5 139.3L142.26 140.65L143.78 140.96L142.74 142.1L142.91 143.64L141.5 143L140.09 143.64L140.26 142.1L139.22 140.96L140.74 140.65zM143.5 126.4L144.26 127.75L145.78 128.06L144.74 129.2L144.91 130.74L143.5 130.1L142.09 130.74L142.26 129.2L141.22 128.06L142.74 127.75zM145.4 90.7L146.16 92.05L147.68 92.36L146.64 93.5L146.81 95.04L145.4 94.4L143.99 95.04L144.16 93.5L143.12 92.36L144.64 92.05zM147.3 71.6L148.06 72.95L149.58 73.26L148.54 74.4L148.71 75.94L147.3 75.3L145.89 75.94L146.06 74.4L145.02 73.26L146.54 72.95zM149.8 109.9L150.56 111.25L152.08 111.56L151.04 112.7L151.21 114.24L149.8 113.6L148.39 114.24L148.56 112.7L147.52 111.56L149.04 111.25zM151.5 115.7L152.26 117.05L153.78 117.36L152.74 118.5L152.91 120.04L151.5 119.4L150.09 120.04L150.26 118.5L149.22 117.36L150.74 117.05zM153.7 84.5L154.46 85.85L155.98 86.16L154.94 87.3L155.11 88.84L153.7 88.2L152.29 88.84L152.46 87.3L151.42 86.16L152.94 85.85zM155.8 101.4L156.56 102.75L158.08 103.06L157.04 104.2L157.21 105.74L155.8 105.1L154.39 105.74L154.56 104.2L153.52 103.06L155.04 102.75zM157.7 108L158.46 109.35L159.98 109.66L158.94 110.8L159.11 112.34L157.7 111.7L156.29 112.34L156.46 110.8L155.42 109.66L156.94 109.35zM160 86.8L160.76 88.15L162.28 88.46L161.24 89.6L161.41 91.14L160 90.5L158.59 91.14L158.76 89.6L157.72 88.46L159.24 88.15zM161.9 123L162.66 124.35L164.18 124.66L163.14 125.8L163.31 127.34L161.9 126.7L160.49 127.34L160.66 125.8L159.62 124.66L161.14 124.35zM164.2 152.8L164.96 154.15L166.48 154.46L165.44 155.6L165.61 157.14L164.2 156.5L162.79 157.14L162.96 155.6L161.92 154.46L163.44 154.15zM166.2 124.9L166.96 126.25L168.48 126.56L167.44 127.7L167.61 129.24L166.2 128.6L164.79 129.24L164.96 127.7L163.92 126.56L165.44 126.25zM168.1 111.4L168.86 112.75L170.38 113.06L169.34 114.2L169.51 115.74L168.1 115.1L166.69 115.74L166.86 114.2L165.82 113.06L167.34 112.75zM170 138L170.76 139.35L172.28 139.66L171.24 140.8L171.41 142.34L170 141.7L168.59 142.34L168.76 140.8L167.72 139.66L169.24 139.35zM172.5 129.1L173.26 130.45L174.78 130.76L173.74 131.9L173.91 133.44L172.5 132.8L171.09 133.44L171.26 131.9L170.22 130.76L171.74 130.45zM174.4 118.8L175.16 120.15L176.68 120.46L175.64 121.6L175.81 123.14L174.4 122.5L172.99 123.14L173.16 121.6L172.12 120.46L173.64 120.15zM176.7 144.5L177.46 145.85L178.98 146.16L177.94 147.3L178.11 148.84L176.7 148.2L175.29 148.84L175.46 147.3L174.42 146.16L175.94 145.85zM178.7 151.8L179.46 153.15L180.98 153.46L179.94 154.6L180.11 156.14L178.7 155.5L177.29 156.14L177.46 154.6L176.42 153.46L177.94 153.15zM180.6 149.5L181.36 150.85L182.88 151.16L181.84 152.3L182.01 153.84L180.6 153.2L179.19 153.84L179.36 152.3L178.32 151.16L179.84 150.85zM182.7 102.8L183.46 104.15L184.98 104.46L183.94 105.6L184.11 107.14L182.7 106.5L181.29 107.14L181.46 105.6L180.42 104.46L181.94 104.15zM184.2 95.7L184.96 97.05L186.48 97.36L185.44 98.5L185.61 100.04L184.2 99.4L182.79 100.04L182.96 98.5L181.92 97.36L183.44 97.05zM186.5 101.4L187.26 102.75L188.78 103.06L187.74 104.2L187.91 105.74L186.5 105.1L185.09 105.74L185.26 104.2L184.22 103.06L185.74 102.75zM188.8 140.3L189.56 141.65L191.08 141.96L190.04 143.1L190.21 144.64L188.8 144L187.39 144.64L187.56 143.1L186.52 141.96L188.04 141.65zM190.6 117.6L191.36 118.95L192.88 119.26L191.84 120.4L192.01 121.94L190.6 121.3L189.19 121.94L189.36 120.4L188.32 119.26L189.84 118.95zM192.7 84.5L193.46 85.85L194.98 86.16L193.94 87.3L194.11 88.84L192.7 88.2L191.29 88.84L191.46 87.3L190.42 86.16L191.94 85.85zM194.2 92.6L194.96 93.95L196.48 94.26L195.44 95.4L195.61 96.94L194.2 96.3L192.79 96.94L192.96 95.4L191.92 94.26L193.44 93.95zM196.7 109.9L197.46 111.25L198.98 111.56L197.94 112.7L198.11 114.24L196.7 113.6L195.29 114.24L195.46 112.7L194.42 111.56L195.94 111.25zM199 158L199.76 159.35L201.28 159.66L200.24 160.8L200.41 162.34L199 161.7L197.59 162.34L197.76 160.8L196.72 159.66L198.24 159.35zM201 131.1L201.76 132.45L203.28 132.76L202.24 133.9L202.41 135.44L201 134.8L199.59 135.44L199.76 133.9L198.72 132.76L200.24 132.45zM202.9 102.8L203.66 104.15L205.18 104.46L204.14 105.6L204.31 107.14L202.9 106.5L201.49 107.14L201.66 105.6L200.62 104.46L202.14 104.15zM205 121.1L205.76 122.45L207.28 122.76L206.24 123.9L206.41 125.44L205 124.8L203.59 125.44L203.76 123.9L202.72 122.76L204.24 122.45zM206.9 147.6L207.66 148.95L209.18 149.26L208.14 150.4L208.31 151.94L206.9 151.3L205.49 151.94L205.66 150.4L204.62 149.26L206.14 148.95zM209.2 104.7L209.96 106.05L211.48 106.36L210.44 107.5L210.61 109.04L209.2 108.4L207.79 109.04L207.96 107.5L206.92 106.36L208.44 106.05zM211.2 110.5L211.96 111.85L213.48 112.16L212.44 113.3L212.61 114.84L211.2 114.2L209.79 114.84L209.96 113.3L208.92 112.16L210.44 111.85zM213.5 127.2L214.26 128.55L215.78 128.86L214.74 130L214.91 131.54L213.5 130.9L212.09 131.54L212.26 130L211.22 128.86L212.74 128.55zM215.4 109.5L216.16 110.85L217.68 111.16L216.64 112.3L216.81 113.84L215.4 113.2L213.99 113.84L214.16 112.3L213.12 111.16L214.64 110.85zM217.5 115.7L218.26 117.05L219.78 117.36L218.74 118.5L218.91 120.04L217.5 119.4L216.09 120.04L216.26 118.5L215.22 117.36L216.74 117.05zM219.4 131.4L220.16 132.75L221.68 133.06L220.64 134.2L220.81 135.74L219.4 135.1L217.99 135.74L218.16 134.2L217.12 133.06L218.64 132.75zM221.5 156.1L222.26 157.45L223.78 157.76L222.74 158.9L222.91 160.44L221.5 159.8L220.09 160.44L220.26 158.9L219.22 157.76L220.74 157.45zM223.7 140.7L224.46 142.05L225.98 142.36L224.94 143.5L225.11 145.04L223.7 144.4L222.29 145.04L222.46 143.5L221.42 142.36L222.94 142.05zM225.6 126.4L226.36 127.75L227.88 128.06L226.84 129.2L227.01 130.74L225.6 130.1L224.19 130.74L224.36 129.2L223.32 128.06L224.84 127.75zM227.5 124.9L228.26 126.25L229.78 126.56L228.74 127.7L228.91 129.24L227.5 128.6L226.09 129.24L226.26 127.7L225.22 126.56L226.74 126.25zM229.6 147L230.36 148.35L231.88 148.66L230.84 149.8L231.01 151.34L229.6 150.7L228.19 151.34L228.36 149.8L227.32 148.66L228.84 148.35zM231.3 140.3L232.06 141.65L233.58 141.96L232.54 143.1L232.71 144.64L231.3 144L229.89 144.64L230.06 143.1L229.02 141.96L230.54 141.65zM233.8 123L234.56 124.35L236.08 124.66L235.04 125.8L235.21 127.34L233.8 126.7L232.39 127.34L232.56 125.8L231.52 124.66L233.04 124.35zM235.8 123.9L236.56 125.25L238.08 125.56L237.04 126.7L237.21 128.24L235.8 127.6L234.39 128.24L234.56 126.7L233.52 125.56L235.04 125.25zM237.7 149.5L238.46 150.85L239.98 151.16L238.94 152.3L239.11 153.84L237.7 153.2L236.29 153.84L236.46 152.3L235.42 151.16L236.94 150.85zM240 134.5L240.76 135.85L242.28 136.16L241.24 137.3L241.41 138.84L240 138.2L238.59 138.84L238.76 137.3L237.72 136.16L239.24 135.85zM241.9 117.6L242.66 118.95L244.18 119.26L243.14 120.4L243.31 121.94L241.9 121.3L240.49 121.94L240.66 120.4L239.62 119.26L241.14 118.95zM243.8 113.8L244.56 115.15L246.08 115.46L245.04 116.6L245.21 118.14L243.8 117.5L242.39 118.14L242.56 116.6L241.52 115.46L243.04 115.15zM245.8 116.3L246.56 117.65L248.08 117.96L247.04 119.1L247.21 120.64L245.8 120L244.39 120.64L244.56 119.1L243.52 117.96L245.04 117.65zM247.7 118.8L248.46 120.15L249.98 120.46L248.94 121.6L249.11 123.14L247.7 122.5L246.29 123.14L246.46 121.6L245.42 120.46L246.94 120.15zM249.8 121.1L250.56 122.45L252.08 122.76L251.04 123.9L251.21 125.44L249.8 124.8L248.39 125.44L248.56 123.9L247.52 122.76L249.04 122.45zM251.9 125.3L252.66 126.65L254.18 126.96L253.14 128.1L253.31 129.64L251.9 129L250.49 129.64L250.66 128.1L249.62 126.96L251.14 126.65zM254 108.6L254.76 109.95L256.28 110.26L255.24 111.4L255.41 112.94L254 112.3L252.59 112.94L252.76 111.4L251.72 110.26L253.24 109.95zM256.2 126.4L256.96 127.75L258.48 128.06L257.44 129.2L257.61 130.74L256.2 130.1L254.79 130.74L254.96 129.2L253.92 128.06L255.44 127.75zM257.9 139.9L258.66 141.25L260.18 141.56L259.14 142.7L259.31 144.24L257.9 143.6L256.49 144.24L256.66 142.7L255.62 141.56L257.14 141.25zM260.2 103.4L260.96 104.75L262.48 105.06L261.44 106.2L261.61 107.74L260.2 107.1L258.79 107.74L258.96 106.2L257.92 105.06L259.44 104.75zM262.3 118.8L263.06 120.15L264.58 120.46L263.54 121.6L263.71 123.14L262.3 122.5L260.89 123.14L261.06 121.6L260.02 120.46L261.54 120.15zM264.3 132.6L265.06 133.95L266.58 134.26L265.54 135.4L265.71 136.94L264.3 136.3L262.89 136.94L263.06 135.4L262.02 134.26L263.54 133.95zM266.3 148L267.06 149.35L268.58 149.66L267.54 150.8L267.71 152.34L266.3 151.7L264.89 152.34L265.06 150.8L264.02 149.66L265.54 149.35zM268.5 116.8L269.26 118.15L270.78 118.46L269.74 119.6L269.91 121.14L268.5 120.5L267.09 121.14L267.26 119.6L266.22 118.46L267.74 118.15zM270.4 97.6L271.16 98.95L272.68 99.26L271.64 100.4L271.81 101.94L270.4 101.3L268.99 101.94L269.16 100.4L268.12 99.26L269.64 98.95zM272.7 101.8L273.46 103.15L274.98 103.46L273.94 104.6L274.11 106.14L272.7 105.5L271.29 106.14L271.46 104.6L270.42 103.46L271.94 103.15zM274.6 106.1L275.36 107.45L276.88 107.76L275.84 108.9L276.01 110.44L274.6 109.8L273.19 110.44L273.36 108.9L272.32 107.76L273.84 107.45zM276.7 129.7L277.46 131.05L278.98 131.36L277.94 132.5L278.11 134.04L276.7 133.4L275.29 134.04L275.46 132.5L274.42 131.36L275.94 131.05zM278.7 101.4L279.46 102.75L280.98 103.06L279.94 104.2L280.11 105.74L278.7 105.1L277.29 105.74L277.46 104.2L276.42 103.06L277.94 102.75zM280.8 91.3L281.56 92.65L283.08 92.96L282.04 94.1L282.21 95.64L280.8 95L279.39 95.64L279.56 94.1L278.52 92.96L280.04 92.65zM282.7 120.1L283.46 121.45L284.98 121.76L283.94 122.9L284.11 124.44L282.7 123.8L281.29 124.44L281.46 122.9L280.42 121.76L281.94 121.45zM284.8 148L285.56 149.35L287.08 149.66L286.04 150.8L286.21 152.34L284.8 151.7L283.39 152.34L283.56 150.8L282.52 149.66L284.04 149.35zM286.7 130.7L287.46 132.05L288.98 132.36L287.94 133.5L288.11 135.04L286.7 134.4L285.29 135.04L285.46 133.5L284.42 132.36L285.94 132.05zM288.7 116.3L289.46 117.65L290.98 117.96L289.94 119.1L290.11 120.64L288.7 120L287.29 120.64L287.46 119.1L286.42 117.96L287.94 117.65zM291.2 140.7L291.96 142.05L293.48 142.36L292.44 143.5L292.61 145.04L291.2 144.4L289.79 145.04L289.96 143.5L288.92 142.36L290.44 142.05zM293 146.4L293.76 147.75L295.28 148.06L294.24 149.2L294.41 150.74L293 150.1L291.59 150.74L291.76 149.2L290.72 148.06L292.24 147.75zM295 93.8L295.76 95.15L297.28 95.46L296.24 96.6L296.41 98.14L295 97.5L293.59 98.14L293.76 96.6L292.72 95.46L294.24 95.15zM297.1 107.6L297.86 108.95L299.38 109.26L298.34 110.4L298.51 111.94L297.1 111.3L295.69 111.94L295.86 110.4L294.82 109.26L296.34 108.95zM299.1 70.7L299.86 72.05L301.38 72.36L300.34 73.5L300.51 75.04L299.1 74.4L297.69 75.04L297.86 73.5L296.82 72.36L298.34 72.05zM301.2 119.5L301.96 120.85L303.48 121.16L302.44 122.3L302.61 123.84L301.2 123.2L299.79 123.84L299.96 122.3L298.92 121.16L300.44 120.85zM303.3 103.4L304.06 104.75L305.58 105.06L304.54 106.2L304.71 107.74L303.3 107.1L301.89 107.74L302.06 106.2L301.02 105.06L302.54 104.75zM305.4 94.1L306.16 95.45L307.68 95.76L306.64 96.9L306.81 98.44L305.4 97.8L303.99 98.44L304.16 96.9L303.12 95.76L304.64 95.45zM307.5 108L308.26 109.35L309.78 109.66L308.74 110.8L308.91 112.34L307.5 111.7L306.09 112.34L306.26 110.8L305.22 109.66L306.74 109.35zM309.6 127.8L310.36 129.15L311.88 129.46L310.84 130.6L311.01 132.14L309.6 131.5L308.19 132.14L308.36 130.6L307.32 129.46L308.84 129.15zM311.5 140.7L312.26 142.05L313.78 142.36L312.74 143.5L312.91 145.04L311.5 144.4L310.09 145.04L310.26 143.5L309.22 142.36L310.74 142.05zM313.5 129.9L314.26 131.25L315.78 131.56L314.74 132.7L314.91 134.24L313.5 133.6L312.09 134.24L312.26 132.7L311.22 131.56L312.74 131.25zM315.4 98.9L316.16 100.25L317.68 100.56L316.64 101.7L316.81 103.24L315.4 102.6L313.99 103.24L314.16 101.7L313.12 100.56L314.64 100.25zM317.7 112.4L318.46 113.75L319.98 114.06L318.94 115.2L319.11 116.74L317.7 116.1L316.29 116.74L316.46 115.2L315.42 114.06L316.94 113.75zM319.6 121.1L320.36 122.45L321.88 122.76L320.84 123.9L321.01 125.44L319.6 124.8L318.19 125.44L318.36 123.9L317.32 122.76L318.84 122.45zM321.5 111.8L322.26 113.15L323.78 113.46L322.74 114.6L322.91 116.14L321.5 115.5L320.09 116.14L320.26 114.6L319.22 113.46L320.74 113.15zM323.5 124.9L324.26 126.25L325.78 126.56L324.74 127.7L324.91 129.24L323.5 128.6L322.09 129.24L322.26 127.7L321.22 126.56L322.74 126.25zM325.8 125.3L326.56 126.65L328.08 126.96L327.04 128.1L327.21 129.64L325.8 129L324.39 129.64L324.56 128.1L323.52 126.96L325.04 126.65zM327.7 116.3L328.46 117.65L329.98 117.96L328.94 119.1L329.11 120.64L327.7 120L326.29 120.64L326.46 119.1L325.42 117.96L326.94 117.65zM329.6 91.8L330.36 93.15L331.88 93.46L330.84 94.6L331.01 96.14L329.6 95.5L328.19 96.14L328.36 94.6L327.32 93.46L328.84 93.15zM331.9 136.8L332.66 138.15L334.18 138.46L333.14 139.6L333.31 141.14L331.9 140.5L330.49 141.14L330.66 139.6L329.62 138.46L331.14 138.15zM334 106.6L334.76 107.95L336.28 108.26L335.24 109.4L335.41 110.94L334 110.3L332.59 110.94L332.76 109.4L331.72 108.26L333.24 107.95zM336 130.7L336.76 132.05L338.28 132.36L337.24 133.5L337.41 135.04L336 134.4L334.59 135.04L334.76 133.5L333.72 132.36L335.24 132.05zM338.1 83L338.86 84.35L340.38 84.66L339.34 85.8L339.51 87.34L338.1 86.7L336.69 87.34L336.86 85.8L335.82 84.66L337.34 84.35zM340.2 104.1L340.96 105.45L342.48 105.76L341.44 106.9L341.61 108.44L340.2 107.8L338.79 108.44L338.96 106.9L337.92 105.76L339.44 105.45zM342.3 124.5L343.06 125.85L344.58 126.16L343.54 127.3L343.71 128.84L342.3 128.2L340.89 128.84L341.06 127.3L340.02 126.16L341.54 125.85zM344.6 140.3L345.36 141.65L346.88 141.96L345.84 143.1L346.01 144.64L344.6 144L343.19 144.64L343.36 143.1L342.32 141.96L343.84 141.65zM346.5 141.8L347.26 143.15L348.78 143.46L347.74 144.6L347.91 146.14L346.5 145.5L345.09 146.14L345.26 144.6L344.22 143.46L345.74 143.15zM348.5 135.5L349.26 136.85L350.78 137.16L349.74 138.3L349.91 139.84L348.5 139.2L347.09 139.84L347.26 138.3L346.22 137.16L347.74 136.85zM350.4 124.5L351.16 125.85L352.68 126.16L351.64 127.3L351.81 128.84L350.4 128.2L348.99 128.84L349.16 127.3L348.12 126.16L349.64 125.85zM352.3 117.2L353.06 118.55L354.58 118.86L353.54 120L353.71 121.54L352.3 120.9L350.89 121.54L351.06 120L350.02 118.86L351.54 118.55zM354.6 138.8L355.36 140.15L356.88 140.46L355.84 141.6L356.01 143.14L354.6 142.5L353.19 143.14L353.36 141.6L352.32 140.46L353.84 140.15zM356.5 134.1L357.26 135.45L358.78 135.76L357.74 136.9L357.91 138.44L356.5 137.8L355.09 138.44L355.26 136.9L354.22 135.76L355.74 135.45zM358.5 146.4L359.26 147.75L360.78 148.06L359.74 149.2L359.91 150.74L358.5 150.1L357.09 150.74L357.26 149.2L356.22 148.06L357.74 147.75zM360.4 146.4L361.16 147.75L362.68 148.06L361.64 149.2L361.81 150.74L360.4 150.1L358.99 150.74L359.16 149.2L358.12 148.06L359.64 147.75zM362.3 134.1L363.06 135.45L364.58 135.76L363.54 136.9L363.71 138.44L362.3 137.8L360.89 138.44L361.06 136.9L360.02 135.76L361.54 135.45zM364.2 120.1L364.96 121.45L366.48 121.76L365.44 122.9L365.61 124.44L364.2 123.8L362.79 124.44L362.96 122.9L361.92 121.76L363.44 121.45zM366.2 127.6L366.96 128.95L368.48 129.26L367.44 130.4L367.61 131.94L366.2 131.3L364.79 131.94L364.96 130.4L363.92 129.26L365.44 128.95zM367.3 133.6L368.06 134.95L369.58 135.26L368.54 136.4L368.71 137.94L367.3 137.3L365.89 137.94L366.06 136.4L365.02 135.26L366.54 134.95zM369.2 142.2L369.96 143.55L371.48 143.86L370.44 145L370.61 146.54L369.2 145.9L367.79 146.54L367.96 145L366.92 143.86L368.44 143.55zM371.2 111.1L371.96 112.45L373.48 112.76L372.44 113.9L372.61 115.44L371.2 114.8L369.79 115.44L369.96 113.9L368.92 112.76L370.44 112.45zM373.1 119.1L373.86 120.45L375.38 120.76L374.34 121.9L374.51 123.44L373.1 122.8L371.69 123.44L371.86 121.9L370.82 120.76L372.34 120.45zM375.1 88.8L375.86 90.15L377.38 90.46L376.34 91.6L376.51 93.14L375.1 92.5L373.69 93.14L373.86 91.6L372.82 90.46L374.34 90.15zM376.9 93.8L377.66 95.15L379.18 95.46L378.14 96.6L378.31 98.14L376.9 97.5L375.49 98.14L375.66 96.6L374.62 95.46L376.14 95.15zM379.2 111.8L379.96 113.15L381.48 113.46L380.44 114.6L380.61 116.14L379.2 115.5L377.79 116.14L377.96 114.6L376.92 113.46L378.44 113.15zM381.2 107.2L381.96 108.55L383.48 108.86L382.44 110L382.61 111.54L381.2 110.9L379.79 111.54L379.96 110L378.92 108.86L380.44 108.55zM383.2 135.1L383.96 136.45L385.48 136.76L384.44 137.9L384.61 139.44L383.2 138.8L381.79 139.44L381.96 137.9L380.92 136.76L382.44 136.45zM385.2 131.8L385.96 133.15L387.48 133.46L386.44 134.6L386.61 136.14L385.2 135.5L383.79 136.14L383.96 134.6L382.92 133.46L384.44 133.15zM386.9 111.4L387.66 112.75L389.18 113.06L388.14 114.2L388.31 115.74L386.9 115.1L385.49 115.74L385.66 114.2L384.62 113.06L386.14 112.75zM388.8 101.8L389.56 103.15L391.08 103.46L390.04 104.6L390.21 106.14L388.8 105.5L387.39 106.14L387.56 104.6L386.52 103.46L388.04 103.15zM391 94.1L391.76 95.45L393.28 95.76L392.24 96.9L392.41 98.44L391 97.8L389.59 98.44L389.76 96.9L388.72 95.76L390.24 95.45zM393.1 118.4L393.86 119.75L395.38 120.06L394.34 121.2L394.51 122.74L393.1 122.1L391.69 122.74L391.86 121.2L390.82 120.06L392.34 119.75zM395.2 98L395.96 99.35L397.48 99.66L396.44 100.8L396.61 102.34L395.2 101.7L393.79 102.34L393.96 100.8L392.92 99.66L394.44 99.35zM397.3 96.6L398.06 97.95L399.58 98.26L398.54 99.4L398.71 100.94L397.3 100.3L395.89 100.94L396.06 99.4L395.02 98.26L396.54 97.95zM399.2 83.2L399.96 84.55L401.48 84.86L400.44 86L400.61 87.54L399.2 86.9L397.79 87.54L397.96 86L396.92 84.86L398.44 84.55zM401.3 130.3L402.06 131.65L403.58 131.96L402.54 133.1L402.71 134.64L401.3 134L399.89 134.64L400.06 133.1L399.02 131.96L400.54 131.65zM403.5 122.2L404.26 123.55L405.78 123.86L404.74 125L404.91 126.54L403.5 125.9L402.09 126.54L402.26 125L401.22 123.86L402.74 123.55zM405.6 108.8L406.36 110.15L407.88 110.46L406.84 111.6L407.01 113.14L405.6 112.5L404.19 113.14L404.36 111.6L403.32 110.46L404.84 110.15zM407.7 99.5L408.46 100.85L409.98 101.16L408.94 102.3L409.11 103.84L407.7 103.2L406.29 103.84L406.46 102.3L405.42 101.16L406.94 100.85zM409.6 101.4L410.36 102.75L411.88 103.06L410.84 104.2L411.01 105.74L409.6 105.1L408.19 105.74L408.36 104.2L407.32 103.06L408.84 102.75zM411.7 86.4L412.46 87.75L413.98 88.06L412.94 89.2L413.11 90.74L411.7 90.1L410.29 90.74L410.46 89.2L409.42 88.06L410.94 87.75zM413.8 126.4L414.56 127.75L416.08 128.06L415.04 129.2L415.21 130.74L413.8 130.1L412.39 130.74L412.56 129.2L411.52 128.06L413.04 127.75zM415.8 140.9L416.56 142.25L418.08 142.56L417.04 143.7L417.21 145.24L415.8 144.6L414.39 145.24L414.56 143.7L413.52 142.56L415.04 142.25zM417.9 100.5L418.66 101.85L420.18 102.16L419.14 103.3L419.31 104.84L417.9 104.2L416.49 104.84L416.66 103.3L415.62 102.16L417.14 101.85zM419.8 99.1L420.56 100.45L422.08 100.76L421.04 101.9L421.21 103.44L419.8 102.8L418.39 103.44L418.56 101.9L417.52 100.76L419.04 100.45zM421.9 136.4L422.66 137.75L424.18 138.06L423.14 139.2L423.31 140.74L421.9 140.1L420.49 140.74L420.66 139.2L419.62 138.06L421.14 137.75zM423.8 113.4L424.56 114.75L426.08 115.06L425.04 116.2L425.21 117.74L423.8 117.1L422.39 117.74L422.56 116.2L421.52 115.06L423.04 114.75zM425.8 150.5L426.56 151.85L428.08 152.16L427.04 153.3L427.21 154.84L425.8 154.2L424.39 154.84L424.56 153.3L423.52 152.16L425.04 151.85zM427.9 123.6L428.66 124.95L430.18 125.26L429.14 126.4L429.31 127.94L427.9 127.3L426.49 127.94L426.66 126.4L425.62 125.26L427.14 124.95zM430 101.1L430.76 102.45L432.28 102.76L431.24 103.9L431.41 105.44L430 104.8L428.59 105.44L428.76 103.9L427.72 102.76L429.24 102.45zM431.9 121.6L432.66 122.95L434.18 123.26L433.14 124.4L433.31 125.94L431.9 125.3L430.49 125.94L430.66 124.4L429.62 123.26L431.14 122.95zM434 128L434.76 129.35L436.28 129.66L435.24 130.8L435.41 132.34L434 131.7L432.59 132.34L432.76 130.8L431.72 129.66L433.24 129.35zM436.2 113.4L436.96 114.75L438.48 115.06L437.44 116.2L437.61 117.74L436.2 117.1L434.79 117.74L434.96 116.2L433.92 115.06L435.44 114.75zM438.1 126.8L438.86 128.15L440.38 128.46L439.34 129.6L439.51 131.14L438.1 130.5L436.69 131.14L436.86 129.6L435.82 128.46L437.34 128.15zM440.4 137.6L441.16 138.95L442.68 139.26L441.64 140.4L441.81 141.94L440.4 141.3L438.99 141.94L439.16 140.4L438.12 139.26L439.64 138.95zM442.3 138.9L443.06 140.25L444.58 140.56L443.54 141.7L443.71 143.24L442.3 142.6L440.89 143.24L441.06 141.7L440.02 140.56L441.54 140.25zM444.4 123.6L445.16 124.95L446.68 125.26L445.64 126.4L445.81 127.94L444.4 127.3L442.99 127.94L443.16 126.4L442.12 125.26L443.64 124.95zM446.5 94.7L447.26 96.05L448.78 96.36L447.74 97.5L447.91 99.04L446.5 98.4L445.09 99.04L445.26 97.5L444.22 96.36L445.74 96.05zM448.7 72.6L449.46 73.95L450.98 74.26L449.94 75.4L450.11 76.94L448.7 76.3L447.29 76.94L447.46 75.4L446.42 74.26L447.94 73.95zM450.6 103.4L451.36 104.75L452.88 105.06L451.84 106.2L452.01 107.74L450.6 107.1L449.19 107.74L449.36 106.2L448.32 105.06L449.84 104.75zM452.7 107.6L453.46 108.95L454.98 109.26L453.94 110.4L454.11 111.94L452.7 111.3L451.29 111.94L451.46 110.4L450.42 109.26L451.94 108.95zM454.6 104.9L455.36 106.25L456.88 106.56L455.84 107.7L456.01 109.24L454.6 108.6L453.19 109.24L453.36 107.7L452.32 106.56L453.84 106.25zM456.5 81.8L457.26 83.15L458.78 83.46L457.74 84.6L457.91 86.14L456.5 85.5L455.09 86.14L455.26 84.6L454.22 83.46L455.74 83.15zM458.5 61.4L459.26 62.75L460.78 63.06L459.74 64.2L459.91 65.74L458.5 65.1L457.09 65.74L457.26 64.2L456.22 63.06L457.74 62.75zM460.8 78L461.56 79.35L463.08 79.66L462.04 80.8L462.21 82.34L460.8 81.7L459.39 82.34L459.56 80.8L458.52 79.66L460.04 79.35zM462.7 90.3L463.46 91.65L464.98 91.96L463.94 93.1L464.11 94.64L462.7 94L461.29 94.64L461.46 93.1L460.42 91.96L461.94 91.65zM464.7 112.6L465.46 113.95L466.98 114.26L465.94 115.4L466.11 116.94L464.7 116.3L463.29 116.94L463.46 115.4L462.42 114.26L463.94 113.95zM466.7 124.5L467.46 125.85L468.98 126.16L467.94 127.3L468.11 128.84L466.7 128.2L465.29 128.84L465.46 127.3L464.42 126.16L465.94 125.85z" fill="#16641e"/>
</g>
<g clip-path="url(#cb)">
<path d="M98.5 312.71V374.89M100.4 310.51V371.09M102.7 327.53V384.07M105 314.61V372.99M106.9 306.39V369.81M108.8 311.96V375.64M110.9 324.29V384.11M112.9 316.71V386.29M115.3 347.05V399.75M117.1 343.73V400.47M119.1 360.3V407.5M121.2 335.94V392.86M123.7 382.25V421.15M125.4 365.49V412.11M127.3 375.06V415.94M129.7 369.91V421.09M131.7 359.76V412.04M133.8 428.56V455.84M135.5 380.91V425.49M137.7 349.15V410.05M139.8 364.25V409.35M141.5 369.65V421.95M143.6 357V408.6M145.8 332.36V392.64M147.3 335.57V399.83M149.7 353.29V405.51M151.7 320.82V384.98M153.7 338.17V399.43M155.8 316.25V389.55M157.7 326.29V386.11M160 306.69V380.91M161.9 329.72V394.08M163.8 339.58V399.62M165.8 332.46V391.34M168.1 339.83V395.57M170.4 336.35V388.65M172.3 345.83V396.57M174.2 357.99V404.41M176.7 330.85V395.35M178.7 328.41V386.19M180.6 324.82V382.18M182.5 331.64V385.76M184.4 335.03V399.57M186.9 335.25V400.15M188.8 317.57V385.43M191 321.8V382M192.9 320.42V380.38M194.8 330.3V388.1M196.7 332.68V392.32M198.7 325.23V382.37M201.2 337.31V395.29M203.1 315.63V377.37M205 325.09V394.91M206.9 329.61V397.99M208.8 300.52V371.88M211.2 349.32V400.68M213.1 307.05V383.35M215 333.33V390.47M217.3 345.66V399.74M219.2 337.53V388.67M221.2 327.23V387.37M223.1 315.9V381.1M225.4 300.27V370.93M227.3 319.89V379.31M229.4 319.18V383.82M231.5 296.6V359.2M233.3 320.21V380.59M235.8 323.19V379.81M237.7 327.06V387.54M240 308.88V368.72M241.9 313.61V371.79M244.2 298.95V366.45M246.2 334.73V390.27M248.1 307.88V377.52M250 302.97V373.23M252.3 302.22V376.58M254.2 307.86V378.74M256.3 311.12V381.88M258.3 325.36V393.84M260.2 331.77V390.63M262.1 333.89V391.11M264 327.92V397.08M266.2 338.41V391.59M268.5 317.05V385.95M270.4 335.57V397.03M272.7 320.73V377.27M274.6 315.97V387.03M276.9 318.7V389.7M278.8 309.25V379.15M280.8 331.4V395.6M283.3 325.5V392.9M285.2 328.79V384.61M287.1 329.12V390.88M288.9 308.7V376.7M291.2 319.24V389.16M293.1 313.98V385.22M295 295.63V373.57M297 312.43V380.57M299.2 317.84V389.16M301.3 316.85V385.15M303.3 329V393.4M305.2 349.91V400.89M307.7 328.76V382.84M309.6 313.77V373.83M311.9 314.3V378.1M314.2 316.39V375.21M316.5 303.64V378.96M319.6 301.95V373.05M321.9 314.99V383.01M323.8 303.51V375.29M325.8 328.39V392.81M327.7 349.06V403.94M330 303.35V364.05M331.9 309.46V382.14M334 312.6V383.4M336 319.19V383.81M338.5 321.62V385.98M340.4 350.41V407.19M341.9 335.54V388.26M344.2 334.74V397.86M346.2 322.56V382.04M348.5 334.65V387.75M350.4 311.14V374.26M352.3 321.69V389.11M354.3 338.85V392.75M356.6 329.18V394.22M358.5 309.99V385.41M360.2 351.76V405.84M362.5 374.79V420.21M364.4 354.14V407.26M367.3 347.81V405.79M369.5 341.34V402.66M371.9 335.8V396.8M373.1 340.48V400.32M375.2 382.54V422.06M376.9 402.77V437.23M378.8 406.63V440.97M381.3 387.89V433.11M383.1 415.07V447.33M385.1 363.1V414.5M387 355.67V401.93M388.8 327.55V382.45M391.3 356.88V406.32M393.3 375.03V423.77M395.2 350.15V407.45M397.6 366.36V418.04M399.3 381.09V423.51M401.5 387.3V430.3M403.5 393.57V434.03M405.4 376.93V422.67M407.7 376.42V418.18M409.6 346.69V407.91M411.5 348.52V399.48M413.5 337.6V403.2M415.8 346.34V408.26M417.7 347.61V396.19M419.6 379.24V424.16M421.5 370.49V422.51M423.8 377.35V428.65M426 388.44V430.36M427.9 395.72V433.48M429.8 371.32V415.68M432.3 368.99V423.01M434.6 383.87V424.53M436.5 374.94V422.66M438.1 347.02V397.58M440.4 359.85V411.75M442.3 364.2V420M444.6 378.54V419.86M446.5 371.46V423.14M448.5 372.71V420.29M450.4 356.56V414.24M452.7 366.76V418.64M454.6 389.13V428.47M456.5 376.97V427.63M458.7 378.46V423.94M460.8 375.57V416.43M463.1 364.46V408.14M465.8 345.83V401.77M467.3 355.31V407.69" stroke="rgba(210,115,120,0.5)" stroke-width="1" fill="none"/>
<path d="M94.5 312.71h8M94.5 374.89h8M96.4 310.51h8M96.4 371.09h8M98.7 327.53h8M98.7 384.07h8M101 314.61h8M101 372.99h8M102.9 306.39h8M102.9 369.81h8M104.8 311.96h8M104.8 375.64h8M106.9 324.29h8M106.9 384.11h8M108.9 316.71h8M108.9 386.29h8M111.3 347.05h8M111.3 399.75h8M113.1 343.73h8M113.1 400.47h8M115.1 360.3h8M115.1 407.5h8M117.2 335.94h8M117.2 392.86h8M119.7 382.25h8M119.7 421.15h8M121.4 365.49h8M121.4 412.11h8M123.3 375.06h8M123.3 415.94h8M125.7 369.91h8M125.7 421.09h8M127.7 359.76h8M127.7 412.04h8M129.8 428.56h8M129.8 455.84h8M131.5 380.91h8M131.5 425.49h8M133.7 349.15h8M133.7 410.05h8M135.8 364.25h8M135.8 409.35h8M137.5 369.65h8M137.5 421.95h8M139.6 357h8M139.6 408.6h8M141.8 332.36h8M141.8 392.64h8M143.3 335.57h8M143.3 399.83h8M145.7 353.29h8M145.7 405.51h8M147.7 320.82h8M147.7 384.98h8M149.7 338.17h8M149.7 399.43h8M151.8 316.25h8M151.8 389.55h8M153.7 326.29h8M153.7 386.11h8M156 306.69h8M156 380.91h8M157.9 329.72h8M157.9 394.08h8M159.8 339.58h8M159.8 399.62h8M161.8 332.46h8M161.8 391.34h8M164.1 339.83h8M164.1 395.57h8M166.4 336.35h8M166.4 388.65h8M168.3 345.83h8M168.3 396.57h8M170.2 357.99h8M170.2 404.41h8M172.7 330.85h8M172.7 395.35h8M174.7 328.41h8M174.7 386.19h8M176.6 324.82h8M176.6 382.18h8M178.5 331.64h8M178.5 385.76h8M180.4 335.03h8M180.4 399.57h8M182.9 335.25h8M182.9 400.15h8M184.8 317.57h8M184.8 385.43h8M187 321.8h8M187 382h8M188.9 320.42h8M188.9 380.38h8M190.8 330.3h8M190.8 388.1h8M192.7 332.68h8M192.7 392.32h8M194.7 325.23h8M194.7 382.37h8M197.2 337.31h8M197.2 395.29h8M199.1 315.63h8M199.1 377.37h8M201 325.09h8M201 394.91h8M202.9 329.61h8M202.9 397.99h8M204.8 300.52h8M204.8 371.88h8M207.2 349.32h8M207.2 400.68h8M209.1 307.05h8M209.1 383.35h8M211 333.33h8M211 390.47h8M213.3 345.66h8M213.3 399.74h8M215.2 337.53h8M215.2 388.67h8M217.2 327.23h8M217.2 387.37h8M219.1 315.9h8M219.1 381.1h8M221.4 300.27h8M221.4 370.93h8M223.3 319.89h8M223.3 379.31h8M225.4 319.18h8M225.4 383.82h8M227.5 296.6h8M227.5 359.2h8M229.3 320.21h8M229.3 380.59h8M231.8 323.19h8M231.8 379.81h8M233.7 327.06h8M233.7 387.54h8M236 308.88h8M236 368.72h8M237.9 313.61h8M237.9 371.79h8M240.2 298.95h8M240.2 366.45h8M242.2 334.73h8M242.2 390.27h8M244.1 307.88h8M244.1 377.52h8M246 302.97h8M246 373.23h8M248.3 302.22h8M248.3 376.58h8M250.2 307.86h8M250.2 378.74h8M252.3 311.12h8M252.3 381.88h8M254.3 325.36h8M254.3 393.84h8M256.2 331.77h8M256.2 390.63h8M258.1 333.89h8M258.1 391.11h8M260 327.92h8M260 397.08h8M262.2 338.41h8M262.2 391.59h8M264.5 317.05h8M264.5 385.95h8M266.4 335.57h8M266.4 397.03h8M268.7 320.73h8M268.7 377.27h8M270.6 315.97h8M270.6 387.03h8M272.9 318.7h8M272.9 389.7h8M274.8 309.25h8M274.8 379.15h8M276.8 331.4h8M276.8 395.6h8M279.3 325.5h8M279.3 392.9h8M281.2 328.79h8M281.2 384.61h8M283.1 329.12h8M283.1 390.88h8M284.9 308.7h8M284.9 376.7h8M287.2 319.24h8M287.2 389.16h8M289.1 313.98h8M289.1 385.22h8M291 295.63h8M291 373.57h8M293 312.43h8M293 380.57h8M295.2 317.84h8M295.2 389.16h8M297.3 316.85h8M297.3 385.15h8M299.3 329h8M299.3 393.4h8M301.2 349.91h8M301.2 400.89h8M303.7 328.76h8M303.7 382.84h8M305.6 313.77h8M305.6 373.83h8M307.9 314.3h8M307.9 378.1h8M310.2 316.39h8M310.2 375.21h8M312.5 303.64h8M312.5 378.96h8M315.6 301.95h8M315.6 373.05h8M317.9 314.99h8M317.9 383.01h8M319.8 303.51h8M319.8 375.29h8M321.8 328.39h8M321.8 392.81h8M323.7 349.06h8M323.7 403.94h8M326 303.35h8M326 364.05h8M327.9 309.46h8M327.9 382.14h8M330 312.6h8M330 383.4h8M332 319.19h8M332 383.81h8M334.5 321.62h8M334.5 385.98h8M336.4 350.41h8M336.4 407.19h8M337.9 335.54h8M337.9 388.26h8M340.2 334.74h8M340.2 397.86h8M342.2 322.56h8M342.2 382.04h8M344.5 334.65h8M344.5 387.75h8M346.4 311.14h8M346.4 374.26h8M348.3 321.69h8M348.3 389.11h8M350.3 338.85h8M350.3 392.75h8M352.6 329.18h8M352.6 394.22h8M354.5 309.99h8M354.5 385.41h8M356.2 351.76h8M356.2 405.84h8M358.5 374.79h8M358.5 420.21h8M360.4 354.14h8M360.4 407.26h8M363.3 347.81h8M363.3 405.79h8M365.5 341.34h8M365.5 402.66h8M367.9 335.8h8M367.9 396.8h8M369.1 340.48h8M369.1 400.32h8M371.2 382.54h8M371.2 422.06h8M372.9 402.77h8M372.9 437.23h8M374.8 406.63h8M374.8 440.97h8M377.3 387.89h8M377.3 433.11h8M379.1 415.07h8M379.1 447.33h8M381.1 363.1h8M381.1 414.5h8M383 355.67h8M383 401.93h8M384.8 327.55h8M384.8 382.45h8M387.3 356.88h8M387.3 406.32h8M389.3 375.03h8M389.3 423.77h8M391.2 350.15h8M391.2 407.45h8M393.6 366.36h8M393.6 418.04h8M395.3 381.09h8M395.3 423.51h8M397.5 387.3h8M397.5 430.3h8M399.5 393.57h8M399.5 434.03h8M401.4 376.93h8M401.4 422.67h8M403.7 376.42h8M403.7 418.18h8M405.6 346.69h8M405.6 407.91h8M407.5 348.52h8M407.5 399.48h8M409.5 337.6h8M409.5 403.2h8M411.8 346.34h8M411.8 408.26h8M413.7 347.61h8M413.7 396.19h8M415.6 379.24h8M415.6 424.16h8M417.5 370.49h8M417.5 422.51h8M419.8 377.35h8M419.8 428.65h8M422 388.44h8M422 430.36h8M423.9 395.72h8M423.9 433.48h8M425.8 371.32h8M425.8 415.68h8M428.3 368.99h8M428.3 423.01h8M430.6 383.87h8M430.6 424.53h8M432.5 374.94h8M432.5 422.66h8M434.1 347.02h8M434.1 397.58h8M436.4 359.85h8M436.4 411.75h8M438.3 364.2h8M438.3 420h8M440.6 378.54h8M440.6 419.86h8M442.5 371.46h8M442.5 423.14h8M444.5 372.71h8M444.5 420.29h8M446.4 356.56h8M446.4 414.24h8M448.7 366.76h8M448.7 418.64h8M450.6 389.13h8M450.6 428.47h8M452.5 376.97h8M452.5 427.63h8M454.7 378.46h8M454.7 423.94h8M456.8 375.57h8M456.8 416.43h8M459.1 364.46h8M459.1 408.14h8M461.8 345.83h8M461.8 401.77h8M463.3 355.31h8M463.3 407.69h8" stroke="rgba(220,120,120,0.6)" stroke-width="1" fill="none"/>
<polyline points="98.5,343.8 100.4,340.8 102.7,355.8 105,343.8 106.9,338.1 108.8,343.8 110.9,354.2 112.9,351.5 115.3,373.4 117.1,372.1 119.1,383.9 121.2,364.4 123.7,401.7 125.4,388.8 127.3,395.5 129.7,395.5 131.7,385.9 133.8,442.2 135.5,403.2 137.7,379.6 139.8,386.8 141.5,395.8 143.6,382.8 145.8,362.5 147.3,367.7 149.7,379.4 151.7,352.9 153.7,368.8 155.8,352.9 157.7,356.2 160,343.8 161.9,361.9 163.8,369.6 165.8,361.9 168.1,367.7 170.4,362.5 172.3,371.2 174.2,381.2 176.7,363.1 178.7,357.3 180.6,353.5 182.5,358.7 184.4,367.3 186.9,367.7 188.8,351.5 191,351.9 192.9,350.4 194.8,359.2 196.7,362.5 198.7,353.8 201.2,366.3 203.1,346.5 205,360 206.9,363.8 208.8,336.2 211.2,375 213.1,345.2 215,361.9 217.3,372.7 219.2,363.1 221.2,357.3 223.1,348.5 225.4,335.6 227.3,349.6 229.4,351.5 231.5,327.9 233.3,350.4 235.8,351.5 237.7,357.3 240,338.8 241.9,342.7 244.2,332.7 246.2,362.5 248.1,342.7 250,338.1 252.3,339.4 254.2,343.3 256.3,346.5 258.3,359.6 260.2,361.2 262.1,362.5 264,362.5 266.2,365 268.5,351.5 270.4,366.3 272.7,349 274.6,351.5 276.9,354.2 278.8,344.2 280.8,363.5 283.3,359.2 285.2,356.7 287.1,360 288.9,342.7 291.2,354.2 293.1,349.6 295,334.6 297,346.5 299.2,353.5 301.3,351 303.3,361.2 305.2,375.4 307.7,355.8 309.6,343.8 311.9,346.2 314.2,345.8 316.5,341.3 319.6,337.5 321.9,349 323.8,339.4 325.8,360.6 327.7,376.5 330,333.7 331.9,345.8 334,348 336,351.5 338.5,353.8 340.4,378.8 341.9,361.9 344.2,366.3 346.2,352.3 348.5,361.2 350.4,342.7 352.3,355.4 354.3,365.8 356.6,361.7 358.5,347.7 360.2,378.8 362.5,397.5 364.4,380.7 367.3,376.8 369.5,372 371.9,366.3 373.1,370.4 375.2,402.3 376.9,420 378.8,423.8 381.3,410.5 383.1,431.2 385.1,388.8 387,378.8 388.8,355 391.3,381.6 393.3,399.4 395.2,378.8 397.6,392.2 399.3,402.3 401.5,408.8 403.5,413.8 405.4,399.8 407.7,397.3 409.6,377.3 411.5,374 413.5,370.4 415.8,377.3 417.7,371.9 419.6,401.7 421.5,396.5 423.8,403 426,409.4 427.9,414.6 429.8,393.5 432.3,396 434.6,404.2 436.5,398.8 438.1,372.3 440.4,385.8 442.3,392.1 444.6,399.2 446.5,397.3 448.5,396.5 450.4,385.4 452.7,392.7 454.6,408.8 456.5,402.3 458.7,401.2 460.8,396 463.1,386.3 465.8,373.8 467.3,381.5" stroke="rgba(235,90,90,0.6)" stroke-width="1" fill="none"/>
<path d="M98.5 363.34V402.86M100.4 363.24V401.36M102.7 384.19V418.81M105 368.99V407.21M106.9 338.23V389.37M108.8 359.63V397.37M110.9 378.26V417.54M112.9 365.55V409.05M114.8 390.84V422.16M116.7 369.67V412.73M118.7 397.3V431.1M120.8 368.62V411.78M123.1 448.51V466.69M125.2 431.83V454.57M127.3 421V446.6M129.5 408.69V441.11M131.4 401.58V433.42M133.6 476.29V487.71M135.3 423.18V448.42M137.4 373.75V410.45M139.4 382.41V415.19M141.7 397.5V427.1M143.4 382.3V421.1M145.4 333.95V380.65M146.9 342.24V393.16M148.8 367.14V405.26M151 365.24V403.96M152.9 345.85V391.75M154.6 349.21V391.19M156.5 319.57V370.83M158.4 317.04V375.36M160.3 312.49V371.31M162.2 317.49V374.11M163.8 363.44V405.76M165.8 350.4V398.8M168.1 361.91V407.29M170.4 357.62V400.78M172.3 376.43V415.97M174.2 368.11V404.29M176 401.51V434.29M177.7 362.6V403.6M180.6 373.5V414.1M183.5 380.7V418.5M186.3 376.56V412.64M188.8 351.11V391.29M191.1 373.98V415.82M192.9 384.78V417.62M194.8 378.81V415.79M196.7 388.88V422.32M198.7 374.79V411.41M201 400.56V433.64M202.9 372.12V414.88M205 397.33V428.07M206.9 406.88V437.72M209.2 360.49V400.71M211.2 418.98V446.02M213.1 389.7V423.3M215 407.14V434.86M217.3 418.77V443.63M219.2 409.85V437.15M221.2 390.96V427.84M223.1 392.61V426.19M225.4 376.18V411.82M227.5 398.88V433.52M229.4 399.59V434.61M231.5 370.76V409.64M233.8 397.81V427.59M235.8 402.61V431.59M237.7 404.13V432.07M240 381.57V416.83M241.9 388.35V420.05M243.8 376.09V411.91M245.8 417.09V442.91M248.1 385.06V421.14M250 396.16V431.44M251.9 373.17V413.83M253.8 383.55V418.85M256.2 395.13V427.47M258.3 405.16V435.64M260.2 412.92V440.48M262.3 393.94V426.06M264.2 410.36V436.64M266.5 418.39V444.01M268.5 399.7V434.5M270.4 414.45V440.15M272.7 405.24V435.56M274.6 403.16V434.84M276.5 401.72V435.28M278.5 388.73V421.27M280.8 413.96V440.64M282.7 411.19V438.41M284.6 393.69V426.31M286.5 413.37V441.23M288.6 370.59V413.61M291.2 397.24V431.96M293.1 390.05V426.95M295 373.91V408.49M297 397.32V426.48M299.2 401.83V434.37M301.3 396.13V431.47M303.3 407.07V436.73M305.2 427.07V452.13M307.7 399.03V427.57M309.6 389.37V423.03M311.9 386.45V424.75M313.5 373.4V414.6M315.8 395.7V430.9M318.1 383.35V422.85M320 388.14V421.06M321.9 402.24V430.76M323.8 375.91V411.09M325.8 387.45V422.55M327.7 419.28V446.92M329.6 363.89V408.71M331.5 375.03V414.97M334 378.84V417.16M336 383.3V421.3M338.5 393.46V426.54M340.4 416.12V443.88M341.9 399.44V428.16M344.2 407.82V439.18M346.2 393.68V425.12M348.5 399.88V434.32M350.4 383.81V420.79M352.3 410.31V438.09M354.2 405.69V433.51M356.5 411.17V438.43M358.1 377.15V415.85M360.4 416.33V444.87M362.3 439.38V459.02M364.8 398.08V427.32M367.3 400.67V432.33M369.5 427.55V452.45M370.6 455.85V472.55M372.5 395.88V426.72M375 434.42V457.58M376.9 452.33V468.47M378.8 456.49V472.71M380.8 434.8V457.2M383.1 450.24V470.56M385.6 375.85V414.95M388.9 333.79V386.61M390.8 386.27V421.33M393.3 410.32V437.68M395 372.74V409.46M397.7 395.64V431.56M399 413.42V442.78M401.5 414.07V440.93M403.6 406.2V433.2M406 392.15V425.85M408.1 379.29V417.71M409.6 337.75V384.85M411.9 374.52V410.88M413.8 340.14V389.06M415.8 340.31V391.69M417.7 346.16V389.24M419.6 381.45V414.35M421.6 397.95V429.05M423.6 380.99V417.01M426 411.64V441.36M427.9 417.28V442.72M430.8 387.69V424.71M432.3 382.6V420.6M434.6 403.39V434.21M436.3 396.18V426.82M438.1 352.55V400.85M440.4 391.99V424.41M442.5 400.14V433.86M444.6 417.18V442.82M447.1 425.3V448.9M448.5 422.62V449.78M451 403.25V432.75M452.9 412.59V443.61M455.4 436.2V458.4M458.7 428.25V450.95M460.6 440V460M462.5 426.89V451.11M465.6 410.2V440.2M466.9 416.33V446.27" stroke="rgba(120,160,120,0.55)" stroke-width="1" fill="none"/>
<path d="M94.5 363.34h8M94.5 402.86h8M96.4 363.24h8M96.4 401.36h8M98.7 384.19h8M98.7 418.81h8M101 368.99h8M101 407.21h8M102.9 338.23h8M102.9 389.37h8M104.8 359.63h8M104.8 397.37h8M106.9 378.26h8M106.9 417.54h8M108.9 365.55h8M108.9 409.05h8M110.8 390.84h8M110.8 422.16h8M112.7 369.67h8M112.7 412.73h8M114.7 397.3h8M114.7 431.1h8M116.8 368.62h8M116.8 411.78h8M119.1 448.51h8M119.1 466.69h8M121.2 431.83h8M121.2 454.57h8M123.3 421h8M123.3 446.6h8M125.5 408.69h8M125.5 441.11h8M127.4 401.58h8M127.4 433.42h8M129.6 476.29h8M129.6 487.71h8M131.3 423.18h8M131.3 448.42h8M133.4 373.75h8M133.4 410.45h8M135.4 382.41h8M135.4 415.19h8M137.7 397.5h8M137.7 427.1h8M139.4 382.3h8M139.4 421.1h8M141.4 333.95h8M141.4 380.65h8M142.9 342.24h8M142.9 393.16h8M144.8 367.14h8M144.8 405.26h8M147 365.24h8M147 403.96h8M148.9 345.85h8M148.9 391.75h8M150.6 349.21h8M150.6 391.19h8M152.5 319.57h8M152.5 370.83h8M154.4 317.04h8M154.4 375.36h8M156.3 312.49h8M156.3 371.31h8M158.2 317.49h8M158.2 374.11h8M159.8 363.44h8M159.8 405.76h8M161.8 350.4h8M161.8 398.8h8M164.1 361.91h8M164.1 407.29h8M166.4 357.62h8M166.4 400.78h8M168.3 376.43h8M168.3 415.97h8M170.2 368.11h8M170.2 404.29h8M172 401.51h8M172 434.29h8M173.7 362.6h8M173.7 403.6h8M176.6 373.5h8M176.6 414.1h8M179.5 380.7h8M179.5 418.5h8M182.3 376.56h8M182.3 412.64h8M184.8 351.11h8M184.8 391.29h8M187.1 373.98h8M187.1 415.82h8M188.9 384.78h8M188.9 417.62h8M190.8 378.81h8M190.8 415.79h8M192.7 388.88h8M192.7 422.32h8M194.7 374.79h8M194.7 411.41h8M197 400.56h8M197 433.64h8M198.9 372.12h8M198.9 414.88h8M201 397.33h8M201 428.07h8M202.9 406.88h8M202.9 437.72h8M205.2 360.49h8M205.2 400.71h8M207.2 418.98h8M207.2 446.02h8M209.1 389.7h8M209.1 423.3h8M211 407.14h8M211 434.86h8M213.3 418.77h8M213.3 443.63h8M215.2 409.85h8M215.2 437.15h8M217.2 390.96h8M217.2 427.84h8M219.1 392.61h8M219.1 426.19h8M221.4 376.18h8M221.4 411.82h8M223.5 398.88h8M223.5 433.52h8M225.4 399.59h8M225.4 434.61h8M227.5 370.76h8M227.5 409.64h8M229.8 397.81h8M229.8 427.59h8M231.8 402.61h8M231.8 431.59h8M233.7 404.13h8M233.7 432.07h8M236 381.57h8M236 416.83h8M237.9 388.35h8M237.9 420.05h8M239.8 376.09h8M239.8 411.91h8M241.8 417.09h8M241.8 442.91h8M244.1 385.06h8M244.1 421.14h8M246 396.16h8M246 431.44h8M247.9 373.17h8M247.9 413.83h8M249.8 383.55h8M249.8 418.85h8M252.2 395.13h8M252.2 427.47h8M254.3 405.16h8M254.3 435.64h8M256.2 412.92h8M256.2 440.48h8M258.3 393.94h8M258.3 426.06h8M260.2 410.36h8M260.2 436.64h8M262.5 418.39h8M262.5 444.01h8M264.5 399.7h8M264.5 434.5h8M266.4 414.45h8M266.4 440.15h8M268.7 405.24h8M268.7 435.56h8M270.6 403.16h8M270.6 434.84h8M272.5 401.72h8M272.5 435.28h8M274.5 388.73h8M274.5 421.27h8M276.8 413.96h8M276.8 440.64h8M278.7 411.19h8M278.7 438.41h8M280.6 393.69h8M280.6 426.31h8M282.5 413.37h8M282.5 441.23h8M284.6 370.59h8M284.6 413.61h8M287.2 397.24h8M287.2 431.96h8M289.1 390.05h8M289.1 426.95h8M291 373.91h8M291 408.49h8M293 397.32h8M293 426.48h8M295.2 401.83h8M295.2 434.37h8M297.3 396.13h8M297.3 431.47h8M299.3 407.07h8M299.3 436.73h8M301.2 427.07h8M301.2 452.13h8M303.7 399.03h8M303.7 427.57h8M305.6 389.37h8M305.6 423.03h8M307.9 386.45h8M307.9 424.75h8M309.5 373.4h8M309.5 414.6h8M311.8 395.7h8M311.8 430.9h8M314.1 383.35h8M314.1 422.85h8M316 388.14h8M316 421.06h8M317.9 402.24h8M317.9 430.76h8M319.8 375.91h8M319.8 411.09h8M321.8 387.45h8M321.8 422.55h8M323.7 419.28h8M323.7 446.92h8M325.6 363.89h8M325.6 408.71h8M327.5 375.03h8M327.5 414.97h8M330 378.84h8M330 417.16h8M332 383.3h8M332 421.3h8M334.5 393.46h8M334.5 426.54h8M336.4 416.12h8M336.4 443.88h8M337.9 399.44h8M337.9 428.16h8M340.2 407.82h8M340.2 439.18h8M342.2 393.68h8M342.2 425.12h8M344.5 399.88h8M344.5 434.32h8M346.4 383.81h8M346.4 420.79h8M348.3 410.31h8M348.3 438.09h8M350.2 405.69h8M350.2 433.51h8M352.5 411.17h8M352.5 438.43h8M354.1 377.15h8M354.1 415.85h8M356.4 416.33h8M356.4 444.87h8M358.3 439.38h8M358.3 459.02h8M360.8 398.08h8M360.8 427.32h8M363.3 400.67h8M363.3 432.33h8M365.5 427.55h8M365.5 452.45h8M366.6 455.85h8M366.6 472.55h8M368.5 395.88h8M368.5 426.72h8M371 434.42h8M371 457.58h8M372.9 452.33h8M372.9 468.47h8M374.8 456.49h8M374.8 472.71h8M376.8 434.8h8M376.8 457.2h8M379.1 450.24h8M379.1 470.56h8M381.6 375.85h8M381.6 414.95h8M384.9 333.79h8M384.9 386.61h8M386.8 386.27h8M386.8 421.33h8M389.3 410.32h8M389.3 437.68h8M391 372.74h8M391 409.46h8M393.7 395.64h8M393.7 431.56h8M395 413.42h8M395 442.78h8M397.5 414.07h8M397.5 440.93h8M399.6 406.2h8M399.6 433.2h8M402 392.15h8M402 425.85h8M404.1 379.29h8M404.1 417.71h8M405.6 337.75h8M405.6 384.85h8M407.9 374.52h8M407.9 410.88h8M409.8 340.14h8M409.8 389.06h8M411.8 340.31h8M411.8 391.69h8M413.7 346.16h8M413.7 389.24h8M415.6 381.45h8M415.6 414.35h8M417.6 397.95h8M417.6 429.05h8M419.6 380.99h8M419.6 417.01h8M422 411.64h8M422 441.36h8M423.9 417.28h8M423.9 442.72h8M426.8 387.69h8M426.8 424.71h8M428.3 382.6h8M428.3 420.6h8M430.6 403.39h8M430.6 434.21h8M432.3 396.18h8M432.3 426.82h8M434.1 352.55h8M434.1 400.85h8M436.4 391.99h8M436.4 424.41h8M438.5 400.14h8M438.5 433.86h8M440.6 417.18h8M440.6 442.82h8M443.1 425.3h8M443.1 448.9h8M444.5 422.62h8M444.5 449.78h8M447 403.25h8M447 432.75h8M448.9 412.59h8M448.9 443.61h8M451.4 436.2h8M451.4 458.4h8M454.7 428.25h8M454.7 450.95h8M456.6 440h8M456.6 460h8M458.5 426.89h8M458.5 451.11h8M461.6 410.2h8M461.6 440.2h8M462.9 416.33h8M462.9 446.27h8" stroke="rgba(150,160,150,0.6)" stroke-width="1" fill="none"/>
<polyline points="98.5,383.1 100.4,382.3 102.7,401.5 105,388.1 106.9,363.8 108.8,378.5 110.9,397.9 112.9,387.3 114.8,406.5 116.7,391.2 118.7,414.2 120.8,390.2 123.1,457.6 125.2,443.2 127.3,433.8 129.5,424.9 131.4,417.5 133.6,482 135.3,435.8 137.4,392.1 139.4,398.8 141.7,412.3 143.4,401.7 145.4,357.3 146.9,367.7 148.8,386.2 151,384.6 152.9,368.8 154.6,370.2 156.5,345.2 158.4,346.2 160.3,341.9 162.2,345.8 163.8,384.6 165.8,374.6 168.1,384.6 170.4,379.2 172.3,396.2 174.2,386.2 176,417.9 177.7,383.1 180.6,393.8 183.5,399.6 186.3,394.6 188.8,371.2 191.1,394.9 192.9,401.2 194.8,397.3 196.7,405.6 198.7,393.1 201,417.1 202.9,393.5 205,412.7 206.9,422.3 209.2,380.6 211.2,432.5 213.1,406.5 215,421 217.3,431.2 219.2,423.5 221.2,409.4 223.1,409.4 225.4,394 227.5,416.2 229.4,417.1 231.5,390.2 233.8,412.7 235.8,417.1 237.7,418.1 240,399.2 241.9,404.2 243.8,394 245.8,430 248.1,403.1 250,413.8 251.9,393.5 253.8,401.2 256.2,411.3 258.3,420.4 260.2,426.7 262.3,410 264.2,423.5 266.5,431.2 268.5,417.1 270.4,427.3 272.7,420.4 274.6,419 276.5,418.5 278.5,405 280.8,427.3 282.7,424.8 284.6,410 286.5,427.3 288.6,392.1 291.2,414.6 293.1,408.5 295,391.2 297,411.9 299.2,418.1 301.3,413.8 303.3,421.9 305.2,439.6 307.7,413.3 309.6,406.2 311.9,405.6 313.5,394 315.8,413.3 318.1,403.1 320,404.6 321.9,416.5 323.8,393.5 325.8,405 327.7,433.1 329.6,386.3 331.5,395 334,398 336,402.3 338.5,410 340.4,430 341.9,413.8 344.2,423.5 346.2,409.4 348.5,417.1 350.4,402.3 352.3,424.2 354.2,419.6 356.5,424.8 358.1,396.5 360.4,430.6 362.3,449.2 364.8,412.7 367.3,416.5 369.5,440 370.6,464.2 372.5,411.3 375,446 376.9,460.4 378.8,464.6 380.8,446 383.1,460.4 385.6,395.4 388.9,360.2 390.8,403.8 393.3,424 395,391.1 397.7,413.6 399,428.1 401.5,427.5 403.6,419.7 406,409 408.1,398.5 409.6,361.3 411.9,392.7 413.8,364.6 415.8,366 417.7,367.7 419.6,397.9 421.6,413.5 423.6,399 426,426.5 427.9,430 430.8,406.2 432.3,401.6 434.6,418.8 436.3,411.5 438.1,376.7 440.4,408.2 442.5,417 444.6,430 447.1,437.1 448.5,436.2 451,418 452.9,428.1 455.4,447.3 458.7,439.6 460.6,450 462.5,439 465.6,425.2 466.9,431.3" stroke="rgba(70,190,70,0.45)" stroke-width="1" fill="none"/>
<path d="M96.3 341.6h4.4v4.4h-4.4zM98.2 338.6h4.4v4.4h-4.4zM100.5 353.6h4.4v4.4h-4.4zM102.8 341.6h4.4v4.4h-4.4zM104.7 335.9h4.4v4.4h-4.4zM106.6 341.6h4.4v4.4h-4.4zM108.7 352h4.4v4.4h-4.4zM110.7 349.3h4.4v4.4h-4.4zM113.1 371.2h4.4v4.4h-4.4zM114.9 369.9h4.4v4.4h-4.4zM116.9 381.7h4.4v4.4h-4.4zM119 362.2h4.4v4.4h-4.4zM121.5 399.5h4.4v4.4h-4.4zM123.2 386.6h4.4v4.4h-4.4zM125.1 393.3h4.4v4.4h-4.4zM127.5 393.3h4.4v4.4h-4.4zM129.5 383.7h4.4v4.4h-4.4zM131.6 440h4.4v4.4h-4.4zM133.3 401h4.4v4.4h-4.4zM135.5 377.4h4.4v4.4h-4.4zM137.6 384.6h4.4v4.4h-4.4zM139.3 393.6h4.4v4.4h-4.4zM141.4 380.6h4.4v4.4h-4.4zM143.6 360.3h4.4v4.4h-4.4zM145.1 365.5h4.4v4.4h-4.4zM147.5 377.2h4.4v4.4h-4.4zM149.5 350.7h4.4v4.4h-4.4zM151.5 366.6h4.4v4.4h-4.4zM153.6 350.7h4.4v4.4h-4.4zM155.5 354h4.4v4.4h-4.4zM157.8 341.6h4.4v4.4h-4.4zM159.7 359.7h4.4v4.4h-4.4zM161.6 367.4h4.4v4.4h-4.4zM163.6 359.7h4.4v4.4h-4.4zM165.9 365.5h4.4v4.4h-4.4zM168.2 360.3h4.4v4.4h-4.4zM170.1 369h4.4v4.4h-4.4zM172 379h4.4v4.4h-4.4zM174.5 360.9h4.4v4.4h-4.4zM176.5 355.1h4.4v4.4h-4.4zM178.4 351.3h4.4v4.4h-4.4zM180.3 356.5h4.4v4.4h-4.4zM182.2 365.1h4.4v4.4h-4.4zM184.7 365.5h4.4v4.4h-4.4zM186.6 349.3h4.4v4.4h-4.4zM188.8 349.7h4.4v4.4h-4.4zM190.7 348.2h4.4v4.4h-4.4zM192.6 357h4.4v4.4h-4.4zM194.5 360.3h4.4v4.4h-4.4zM196.5 351.6h4.4v4.4h-4.4zM199 364.1h4.4v4.4h-4.4zM200.9 344.3h4.4v4.4h-4.4zM202.8 357.8h4.4v4.4h-4.4zM204.7 361.6h4.4v4.4h-4.4zM206.6 334h4.4v4.4h-4.4zM209 372.8h4.4v4.4h-4.4zM210.9 343h4.4v4.4h-4.4zM212.8 359.7h4.4v4.4h-4.4zM215.1 370.5h4.4v4.4h-4.4zM217 360.9h4.4v4.4h-4.4zM219 355.1h4.4v4.4h-4.4zM220.9 346.3h4.4v4.4h-4.4zM223.2 333.4h4.4v4.4h-4.4zM225.1 347.4h4.4v4.4h-4.4zM227.2 349.3h4.4v4.4h-4.4zM229.3 325.7h4.4v4.4h-4.4zM231.1 348.2h4.4v4.4h-4.4zM233.6 349.3h4.4v4.4h-4.4zM235.5 355.1h4.4v4.4h-4.4zM237.8 336.6h4.4v4.4h-4.4zM239.7 340.5h4.4v4.4h-4.4zM242 330.5h4.4v4.4h-4.4zM244 360.3h4.4v4.4h-4.4zM245.9 340.5h4.4v4.4h-4.4zM247.8 335.9h4.4v4.4h-4.4zM250.1 337.2h4.4v4.4h-4.4zM252 341.1h4.4v4.4h-4.4zM254.1 344.3h4.4v4.4h-4.4zM256.1 357.4h4.4v4.4h-4.4zM258 359h4.4v4.4h-4.4zM259.9 360.3h4.4v4.4h-4.4zM261.8 360.3h4.4v4.4h-4.4zM264 362.8h4.4v4.4h-4.4zM266.3 349.3h4.4v4.4h-4.4zM268.2 364.1h4.4v4.4h-4.4zM270.5 346.8h4.4v4.4h-4.4zM272.4 349.3h4.4v4.4h-4.4zM274.7 352h4.4v4.4h-4.4zM276.6 342h4.4v4.4h-4.4zM278.6 361.3h4.4v4.4h-4.4zM281.1 357h4.4v4.4h-4.4zM283 354.5h4.4v4.4h-4.4zM284.9 357.8h4.4v4.4h-4.4zM286.7 340.5h4.4v4.4h-4.4zM289 352h4.4v4.4h-4.4zM290.9 347.4h4.4v4.4h-4.4zM292.8 332.4h4.4v4.4h-4.4zM294.8 344.3h4.4v4.4h-4.4zM297 351.3h4.4v4.4h-4.4zM299.1 348.8h4.4v4.4h-4.4zM301.1 359h4.4v4.4h-4.4zM303 373.2h4.4v4.4h-4.4zM305.5 353.6h4.4v4.4h-4.4zM307.4 341.6h4.4v4.4h-4.4zM309.7 344h4.4v4.4h-4.4zM312 343.6h4.4v4.4h-4.4zM314.3 339.1h4.4v4.4h-4.4zM317.4 335.3h4.4v4.4h-4.4zM319.7 346.8h4.4v4.4h-4.4zM321.6 337.2h4.4v4.4h-4.4zM323.6 358.4h4.4v4.4h-4.4zM325.5 374.3h4.4v4.4h-4.4zM327.8 331.5h4.4v4.4h-4.4zM329.7 343.6h4.4v4.4h-4.4zM331.8 345.8h4.4v4.4h-4.4zM333.8 349.3h4.4v4.4h-4.4zM336.3 351.6h4.4v4.4h-4.4zM338.2 376.6h4.4v4.4h-4.4zM339.7 359.7h4.4v4.4h-4.4zM342 364.1h4.4v4.4h-4.4zM344 350.1h4.4v4.4h-4.4zM346.3 359h4.4v4.4h-4.4zM348.2 340.5h4.4v4.4h-4.4zM350.1 353.2h4.4v4.4h-4.4zM352.1 363.6h4.4v4.4h-4.4zM354.4 359.5h4.4v4.4h-4.4zM356.3 345.5h4.4v4.4h-4.4zM358 376.6h4.4v4.4h-4.4zM360.3 395.3h4.4v4.4h-4.4zM362.2 378.5h4.4v4.4h-4.4zM365.1 374.6h4.4v4.4h-4.4zM367.3 369.8h4.4v4.4h-4.4zM369.7 364.1h4.4v4.4h-4.4zM370.9 368.2h4.4v4.4h-4.4zM373 400.1h4.4v4.4h-4.4zM374.7 417.8h4.4v4.4h-4.4zM376.6 421.6h4.4v4.4h-4.4zM379.1 408.3h4.4v4.4h-4.4zM380.9 429h4.4v4.4h-4.4zM382.9 386.6h4.4v4.4h-4.4zM384.8 376.6h4.4v4.4h-4.4zM386.6 352.8h4.4v4.4h-4.4zM389.1 379.4h4.4v4.4h-4.4zM391.1 397.2h4.4v4.4h-4.4zM393 376.6h4.4v4.4h-4.4zM395.4 390h4.4v4.4h-4.4zM397.1 400.1h4.4v4.4h-4.4zM399.3 406.6h4.4v4.4h-4.4zM401.3 411.6h4.4v4.4h-4.4zM403.2 397.6h4.4v4.4h-4.4zM405.5 395.1h4.4v4.4h-4.4zM407.4 375.1h4.4v4.4h-4.4zM409.3 371.8h4.4v4.4h-4.4zM411.3 368.2h4.4v4.4h-4.4zM413.6 375.1h4.4v4.4h-4.4zM415.5 369.7h4.4v4.4h-4.4zM417.4 399.5h4.4v4.4h-4.4zM419.3 394.3h4.4v4.4h-4.4zM421.6 400.8h4.4v4.4h-4.4zM423.8 407.2h4.4v4.4h-4.4zM425.7 412.4h4.4v4.4h-4.4zM427.6 391.3h4.4v4.4h-4.4zM430.1 393.8h4.4v4.4h-4.4zM432.4 402h4.4v4.4h-4.4zM434.3 396.6h4.4v4.4h-4.4zM435.9 370.1h4.4v4.4h-4.4zM438.2 383.6h4.4v4.4h-4.4zM440.1 389.9h4.4v4.4h-4.4zM442.4 397h4.4v4.4h-4.4zM444.3 395.1h4.4v4.4h-4.4zM446.3 394.3h4.4v4.4h-4.4zM448.2 383.2h4.4v4.4h-4.4zM450.5 390.5h4.4v4.4h-4.4zM452.4 406.6h4.4v4.4h-4.4zM454.3 400.1h4.4v4.4h-4.4zM456.5 399h4.4v4.4h-4.4zM458.6 393.8h4.4v4.4h-4.4zM460.9 384.1h4.4v4.4h-4.4zM463.6 371.6h4.4v4.4h-4.4zM465.1 379.3h4.4v4.4h-4.4z" fill="#d8141e"/>
<path d="M98.5 380.7L99.26 382.05L100.78 382.36L99.74 383.5L99.91 385.04L98.5 384.4L97.09 385.04L97.26 383.5L96.22 382.36L97.74 382.05zM100.4 379.9L101.16 381.25L102.68 381.56L101.64 382.7L101.81 384.24L100.4 383.6L98.99 384.24L99.16 382.7L98.12 381.56L99.64 381.25zM102.7 399.1L103.46 400.45L104.98 400.76L103.94 401.9L104.11 403.44L102.7 402.8L101.29 403.44L101.46 401.9L100.42 400.76L101.94 400.45zM105 385.7L105.76 387.05L107.28 387.36L106.24 388.5L106.41 390.04L105 389.4L103.59 390.04L103.76 388.5L102.72 387.36L104.24 387.05zM106.9 361.4L107.66 362.75L109.18 363.06L108.14 364.2L108.31 365.74L106.9 365.1L105.49 365.74L105.66 364.2L104.62 363.06L106.14 362.75zM108.8 376.1L109.56 377.45L111.08 377.76L110.04 378.9L110.21 380.44L108.8 379.8L107.39 380.44L107.56 378.9L106.52 377.76L108.04 377.45zM110.9 395.5L111.66 396.85L113.18 397.16L112.14 398.3L112.31 399.84L110.9 399.2L109.49 399.84L109.66 398.3L108.62 397.16L110.14 396.85zM112.9 384.9L113.66 386.25L115.18 386.56L114.14 387.7L114.31 389.24L112.9 388.6L111.49 389.24L111.66 387.7L110.62 386.56L112.14 386.25zM114.8 404.1L115.56 405.45L117.08 405.76L116.04 406.9L116.21 408.44L114.8 407.8L113.39 408.44L113.56 406.9L112.52 405.76L114.04 405.45zM116.7 388.8L117.46 390.15L118.98 390.46L117.94 391.6L118.11 393.14L116.7 392.5L115.29 393.14L115.46 391.6L114.42 390.46L115.94 390.15zM118.7 411.8L119.46 413.15L120.98 413.46L119.94 414.6L120.11 416.14L118.7 415.5L117.29 416.14L117.46 414.6L116.42 413.46L117.94 413.15zM120.8 387.8L121.56 389.15L123.08 389.46L122.04 390.6L122.21 392.14L120.8 391.5L119.39 392.14L119.56 390.6L118.52 389.46L120.04 389.15zM123.1 455.2L123.86 456.55L125.38 456.86L124.34 458L124.51 459.54L123.1 458.9L121.69 459.54L121.86 458L120.82 456.86L122.34 456.55zM125.2 440.8L125.96 442.15L127.48 442.46L126.44 443.6L126.61 445.14L125.2 444.5L123.79 445.14L123.96 443.6L122.92 442.46L124.44 442.15zM127.3 431.4L128.06 432.75L129.58 433.06L128.54 434.2L128.71 435.74L127.3 435.1L125.89 435.74L126.06 434.2L125.02 433.06L126.54 432.75zM129.5 422.5L130.26 423.85L131.78 424.16L130.74 425.3L130.91 426.84L129.5 426.2L128.09 426.84L128.26 425.3L127.22 424.16L128.74 423.85zM131.4 415.1L132.16 416.45L133.68 416.76L132.64 417.9L132.81 419.44L131.4 418.8L129.99 419.44L130.16 417.9L129.12 416.76L130.64 416.45zM133.6 479.6L134.36 480.95L135.88 481.26L134.84 482.4L135.01 483.94L133.6 483.3L132.19 483.94L132.36 482.4L131.32 481.26L132.84 480.95zM135.3 433.4L136.06 434.75L137.58 435.06L136.54 436.2L136.71 437.74L135.3 437.1L133.89 437.74L134.06 436.2L133.02 435.06L134.54 434.75zM137.4 389.7L138.16 391.05L139.68 391.36L138.64 392.5L138.81 394.04L137.4 393.4L135.99 394.04L136.16 392.5L135.12 391.36L136.64 391.05zM139.4 396.4L140.16 397.75L141.68 398.06L140.64 399.2L140.81 400.74L139.4 400.1L137.99 400.74L138.16 399.2L137.12 398.06L138.64 397.75zM141.7 409.9L142.46 411.25L143.98 411.56L142.94 412.7L143.11 414.24L141.7 413.6L140.29 414.24L140.46 412.7L139.42 411.56L140.94 411.25zM143.4 399.3L144.16 400.65L145.68 400.96L144.64 402.1L144.81 403.64L143.4 403L141.99 403.64L142.16 402.1L141.12 400.96L142.64 400.65zM145.4 354.9L146.16 356.25L147.68 356.56L146.64 357.7L146.81 359.24L145.4 358.6L143.99 359.24L144.16 357.7L143.12 356.56L144.64 356.25zM146.9 365.3L147.66 366.65L149.18 366.96L148.14 368.1L148.31 369.64L146.9 369L145.49 369.64L145.66 368.1L144.62 366.96L146.14 366.65zM148.8 383.8L149.56 385.15L151.08 385.46L150.04 386.6L150.21 388.14L148.8 387.5L147.39 388.14L147.56 386.6L146.52 385.46L148.04 385.15zM151 382.2L151.76 383.55L153.28 383.86L152.24 385L152.41 386.54L151 385.9L149.59 386.54L149.76 385L148.72 383.86L150.24 383.55zM152.9 366.4L153.66 367.75L155.18 368.06L154.14 369.2L154.31 370.74L152.9 370.1L151.49 370.74L151.66 369.2L150.62 368.06L152.14 367.75zM154.6 367.8L155.36 369.15L156.88 369.46L155.84 370.6L156.01 372.14L154.6 371.5L153.19 372.14L153.36 370.6L152.32 369.46L153.84 369.15zM156.5 342.8L157.26 344.15L158.78 344.46L157.74 345.6L157.91 347.14L156.5 346.5L155.09 347.14L155.26 345.6L154.22 344.46L155.74 344.15zM158.4 343.8L159.16 345.15L160.68 345.46L159.64 346.6L159.81 348.14L158.4 347.5L156.99 348.14L157.16 346.6L156.12 345.46L157.64 345.15zM160.3 339.5L161.06 340.85L162.58 341.16L161.54 342.3L161.71 343.84L160.3 343.2L158.89 343.84L159.06 342.3L158.02 341.16L159.54 340.85zM162.2 343.4L162.96 344.75L164.48 345.06L163.44 346.2L163.61 347.74L162.2 347.1L160.79 347.74L160.96 346.2L159.92 345.06L161.44 344.75zM163.8 382.2L164.56 383.55L166.08 383.86L165.04 385L165.21 386.54L163.8 385.9L162.39 386.54L162.56 385L161.52 383.86L163.04 383.55zM165.8 372.2L166.56 373.55L168.08 373.86L167.04 375L167.21 376.54L165.8 375.9L164.39 376.54L164.56 375L163.52 373.86L165.04 373.55zM168.1 382.2L168.86 383.55L170.38 383.86L169.34 385L169.51 386.54L168.1 385.9L166.69 386.54L166.86 385L165.82 383.86L167.34 383.55zM170.4 376.8L171.16 378.15L172.68 378.46L171.64 379.6L171.81 381.14L170.4 380.5L168.99 381.14L169.16 379.6L168.12 378.46L169.64 378.15zM172.3 393.8L173.06 395.15L174.58 395.46L173.54 396.6L173.71 398.14L172.3 397.5L170.89 398.14L171.06 396.6L170.02 395.46L171.54 395.15zM174.2 383.8L174.96 385.15L176.48 385.46L175.44 386.6L175.61 388.14L174.2 387.5L172.79 388.14L172.96 386.6L171.92 385.46L173.44 385.15zM176 415.5L176.76 416.85L178.28 417.16L177.24 418.3L177.41 419.84L176 419.2L174.59 419.84L174.76 418.3L173.72 417.16L175.24 416.85zM177.7 380.7L178.46 382.05L179.98 382.36L178.94 383.5L179.11 385.04L177.7 384.4L176.29 385.04L176.46 383.5L175.42 382.36L176.94 382.05zM180.6 391.4L181.36 392.75L182.88 393.06L181.84 394.2L182.01 395.74L180.6 395.1L179.19 395.74L179.36 394.2L178.32 393.06L179.84 392.75zM183.5 397.2L184.26 398.55L185.78 398.86L184.74 400L184.91 401.54L183.5 400.9L182.09 401.54L182.26 400L181.22 398.86L182.74 398.55zM186.3 392.2L187.06 393.55L188.58 393.86L187.54 395L187.71 396.54L186.3 395.9L184.89 396.54L185.06 395L184.02 393.86L185.54 393.55zM188.8 368.8L189.56 370.15L191.08 370.46L190.04 371.6L190.21 373.14L188.8 372.5L187.39 373.14L187.56 371.6L186.52 370.46L188.04 370.15zM191.1 392.5L191.86 393.85L193.38 394.16L192.34 395.3L192.51 396.84L191.1 396.2L189.69 396.84L189.86 395.3L188.82 394.16L190.34 393.85zM192.9 398.8L193.66 400.15L195.18 400.46L194.14 401.6L194.31 403.14L192.9 402.5L191.49 403.14L191.66 401.6L190.62 400.46L192.14 400.15zM194.8 394.9L195.56 396.25L197.08 396.56L196.04 397.7L196.21 399.24L194.8 398.6L193.39 399.24L193.56 397.7L192.52 396.56L194.04 396.25zM196.7 403.2L197.46 404.55L198.98 404.86L197.94 406L198.11 407.54L196.7 406.9L195.29 407.54L195.46 406L194.42 404.86L195.94 404.55zM198.7 390.7L199.46 392.05L200.98 392.36L199.94 393.5L200.11 395.04L198.7 394.4L197.29 395.04L197.46 393.5L196.42 392.36L197.94 392.05zM201 414.7L201.76 416.05L203.28 416.36L202.24 417.5L202.41 419.04L201 418.4L199.59 419.04L199.76 417.5L198.72 416.36L200.24 416.05zM202.9 391.1L203.66 392.45L205.18 392.76L204.14 393.9L204.31 395.44L202.9 394.8L201.49 395.44L201.66 393.9L200.62 392.76L202.14 392.45zM205 410.3L205.76 411.65L207.28 411.96L206.24 413.1L206.41 414.64L205 414L203.59 414.64L203.76 413.1L202.72 411.96L204.24 411.65zM206.9 419.9L207.66 421.25L209.18 421.56L208.14 422.7L208.31 424.24L206.9 423.6L205.49 424.24L205.66 422.7L204.62 421.56L206.14 421.25zM209.2 378.2L209.96 379.55L211.48 379.86L210.44 381L210.61 382.54L209.2 381.9L207.79 382.54L207.96 381L206.92 379.86L208.44 379.55zM211.2 430.1L211.96 431.45L213.48 431.76L212.44 432.9L212.61 434.44L211.2 433.8L209.79 434.44L209.96 432.9L208.92 431.76L210.44 431.45zM213.1 404.1L213.86 405.45L215.38 405.76L214.34 406.9L214.51 408.44L213.1 407.8L211.69 408.44L211.86 406.9L210.82 405.76L212.34 405.45zM215 418.6L215.76 419.95L217.28 420.26L216.24 421.4L216.41 422.94L215 422.3L213.59 422.94L213.76 421.4L212.72 420.26L214.24 419.95zM217.3 428.8L218.06 430.15L219.58 430.46L218.54 431.6L218.71 433.14L217.3 432.5L215.89 433.14L216.06 431.6L215.02 430.46L216.54 430.15zM219.2 421.1L219.96 422.45L221.48 422.76L220.44 423.9L220.61 425.44L219.2 424.8L217.79 425.44L217.96 423.9L216.92 422.76L218.44 422.45zM221.2 407L221.96 408.35L223.48 408.66L222.44 409.8L222.61 411.34L221.2 410.7L219.79 411.34L219.96 409.8L218.92 408.66L220.44 408.35zM223.1 407L223.86 408.35L225.38 408.66L224.34 409.8L224.51 411.34L223.1 410.7L221.69 411.34L221.86 409.8L220.82 408.66L222.34 408.35zM225.4 391.6L226.16 392.95L227.68 393.26L226.64 394.4L226.81 395.94L225.4 395.3L223.99 395.94L224.16 394.4L223.12 393.26L224.64 392.95zM227.5 413.8L228.26 415.15L229.78 415.46L228.74 416.6L228.91 418.14L227.5 417.5L226.09 418.14L226.26 416.6L225.22 415.46L226.74 415.15zM229.4 414.7L230.16 416.05L231.68 416.36L230.64 417.5L230.81 419.04L229.4 418.4L227.99 419.04L228.16 417.5L227.12 416.36L228.64 416.05zM231.5 387.8L232.26 389.15L233.78 389.46L232.74 390.6L232.91 392.14L231.5 391.5L230.09 392.14L230.26 390.6L229.22 389.46L230.74 389.15zM233.8 410.3L234.56 411.65L236.08 411.96L235.04 413.1L235.21 414.64L233.8 414L232.39 414.64L232.56 413.1L231.52 411.96L233.04 411.65zM235.8 414.7L236.56 416.05L238.08 416.36L237.04 417.5L237.21 419.04L235.8 418.4L234.39 419.04L234.56 417.5L233.52 416.36L235.04 416.05zM237.7 415.7L238.46 417.05L239.98 417.36L238.94 418.5L239.11 420.04L237.7 419.4L236.29 420.04L236.46 418.5L235.42 417.36L236.94 417.05zM240 396.8L240.76 398.15L242.28 398.46L241.24 399.6L241.41 401.14L240 400.5L238.59 401.14L238.76 399.6L237.72 398.46L239.24 398.15zM241.9 401.8L242.66 403.15L244.18 403.46L243.14 404.6L243.31 406.14L241.9 405.5L240.49 406.14L240.66 404.6L239.62 403.46L241.14 403.15zM243.8 391.6L244.56 392.95L246.08 393.26L245.04 394.4L245.21 395.94L243.8 395.3L242.39 395.94L242.56 394.4L241.52 393.26L243.04 392.95zM245.8 427.6L246.56 428.95L248.08 429.26L247.04 430.4L247.21 431.94L245.8 431.3L244.39 431.94L244.56 430.4L243.52 429.26L245.04 428.95zM248.1 400.7L248.86 402.05L250.38 402.36L249.34 403.5L249.51 405.04L248.1 404.4L246.69 405.04L246.86 403.5L245.82 402.36L247.34 402.05zM250 411.4L250.76 412.75L252.28 413.06L251.24 414.2L251.41 415.74L250 415.1L248.59 415.74L248.76 414.2L247.72 413.06L249.24 412.75zM251.9 391.1L252.66 392.45L254.18 392.76L253.14 393.9L253.31 395.44L251.9 394.8L250.49 395.44L250.66 393.9L249.62 392.76L251.14 392.45zM253.8 398.8L254.56 400.15L256.08 400.46L255.04 401.6L255.21 403.14L253.8 402.5L252.39 403.14L252.56 401.6L251.52 400.46L253.04 400.15zM256.2 408.9L256.96 410.25L258.48 410.56L257.44 411.7L257.61 413.24L256.2 412.6L254.79 413.24L254.96 411.7L253.92 410.56L255.44 410.25zM258.3 418L259.06 419.35L260.58 419.66L259.54 420.8L259.71 422.34L258.3 421.7L256.89 422.34L257.06 420.8L256.02 419.66L257.54 419.35zM260.2 424.3L260.96 425.65L262.48 425.96L261.44 427.1L261.61 428.64L260.2 428L258.79 428.64L258.96 427.1L257.92 425.96L259.44 425.65zM262.3 407.6L263.06 408.95L264.58 409.26L263.54 410.4L263.71 411.94L262.3 411.3L260.89 411.94L261.06 410.4L260.02 409.26L261.54 408.95zM264.2 421.1L264.96 422.45L266.48 422.76L265.44 423.9L265.61 425.44L264.2 424.8L262.79 425.44L262.96 423.9L261.92 422.76L263.44 422.45zM266.5 428.8L267.26 430.15L268.78 430.46L267.74 431.6L267.91 433.14L266.5 432.5L265.09 433.14L265.26 431.6L264.22 430.46L265.74 430.15zM268.5 414.7L269.26 416.05L270.78 416.36L269.74 417.5L269.91 419.04L268.5 418.4L267.09 419.04L267.26 417.5L266.22 416.36L267.74 416.05zM270.4 424.9L271.16 426.25L272.68 426.56L271.64 427.7L271.81 429.24L270.4 428.6L268.99 429.24L269.16 427.7L268.12 426.56L269.64 426.25zM272.7 418L273.46 419.35L274.98 419.66L273.94 420.8L274.11 422.34L272.7 421.7L271.29 422.34L271.46 420.8L270.42 419.66L271.94 419.35zM274.6 416.6L275.36 417.95L276.88 418.26L275.84 419.4L276.01 420.94L274.6 420.3L273.19 420.94L273.36 419.4L272.32 418.26L273.84 417.95zM276.5 416.1L277.26 417.45L278.78 417.76L277.74 418.9L277.91 420.44L276.5 419.8L275.09 420.44L275.26 418.9L274.22 417.76L275.74 417.45zM278.5 402.6L279.26 403.95L280.78 404.26L279.74 405.4L279.91 406.94L278.5 406.3L277.09 406.94L277.26 405.4L276.22 404.26L277.74 403.95zM280.8 424.9L281.56 426.25L283.08 426.56L282.04 427.7L282.21 429.24L280.8 428.6L279.39 429.24L279.56 427.7L278.52 426.56L280.04 426.25zM282.7 422.4L283.46 423.75L284.98 424.06L283.94 425.2L284.11 426.74L282.7 426.1L281.29 426.74L281.46 425.2L280.42 424.06L281.94 423.75zM284.6 407.6L285.36 408.95L286.88 409.26L285.84 410.4L286.01 411.94L284.6 411.3L283.19 411.94L283.36 410.4L282.32 409.26L283.84 408.95zM286.5 424.9L287.26 426.25L288.78 426.56L287.74 427.7L287.91 429.24L286.5 428.6L285.09 429.24L285.26 427.7L284.22 426.56L285.74 426.25zM288.6 389.7L289.36 391.05L290.88 391.36L289.84 392.5L290.01 394.04L288.6 393.4L287.19 394.04L287.36 392.5L286.32 391.36L287.84 391.05zM291.2 412.2L291.96 413.55L293.48 413.86L292.44 415L292.61 416.54L291.2 415.9L289.79 416.54L289.96 415L288.92 413.86L290.44 413.55zM293.1 406.1L293.86 407.45L295.38 407.76L294.34 408.9L294.51 410.44L293.1 409.8L291.69 410.44L291.86 408.9L290.82 407.76L292.34 407.45zM295 388.8L295.76 390.15L297.28 390.46L296.24 391.6L296.41 393.14L295 392.5L293.59 393.14L293.76 391.6L292.72 390.46L294.24 390.15zM297 409.5L297.76 410.85L299.28 411.16L298.24 412.3L298.41 413.84L297 413.2L295.59 413.84L295.76 412.3L294.72 411.16L296.24 410.85zM299.2 415.7L299.96 417.05L301.48 417.36L300.44 418.5L300.61 420.04L299.2 419.4L297.79 420.04L297.96 418.5L296.92 417.36L298.44 417.05zM301.3 411.4L302.06 412.75L303.58 413.06L302.54 414.2L302.71 415.74L301.3 415.1L299.89 415.74L300.06 414.2L299.02 413.06L300.54 412.75zM303.3 419.5L304.06 420.85L305.58 421.16L304.54 422.3L304.71 423.84L303.3 423.2L301.89 423.84L302.06 422.3L301.02 421.16L302.54 420.85zM305.2 437.2L305.96 438.55L307.48 438.86L306.44 440L306.61 441.54L305.2 440.9L303.79 441.54L303.96 440L302.92 438.86L304.44 438.55zM307.7 410.9L308.46 412.25L309.98 412.56L308.94 413.7L309.11 415.24L307.7 414.6L306.29 415.24L306.46 413.7L305.42 412.56L306.94 412.25zM309.6 403.8L310.36 405.15L311.88 405.46L310.84 406.6L311.01 408.14L309.6 407.5L308.19 408.14L308.36 406.6L307.32 405.46L308.84 405.15zM311.9 403.2L312.66 404.55L314.18 404.86L313.14 406L313.31 407.54L311.9 406.9L310.49 407.54L310.66 406L309.62 404.86L311.14 404.55zM313.5 391.6L314.26 392.95L315.78 393.26L314.74 394.4L314.91 395.94L313.5 395.3L312.09 395.94L312.26 394.4L311.22 393.26L312.74 392.95zM315.8 410.9L316.56 412.25L318.08 412.56L317.04 413.7L317.21 415.24L315.8 414.6L314.39 415.24L314.56 413.7L313.52 412.56L315.04 412.25zM318.1 400.7L318.86 402.05L320.38 402.36L319.34 403.5L319.51 405.04L318.1 404.4L316.69 405.04L316.86 403.5L315.82 402.36L317.34 402.05zM320 402.2L320.76 403.55L322.28 403.86L321.24 405L321.41 406.54L320 405.9L318.59 406.54L318.76 405L317.72 403.86L319.24 403.55zM321.9 414.1L322.66 415.45L324.18 415.76L323.14 416.9L323.31 418.44L321.9 417.8L320.49 418.44L320.66 416.9L319.62 415.76L321.14 415.45zM323.8 391.1L324.56 392.45L326.08 392.76L325.04 393.9L325.21 395.44L323.8 394.8L322.39 395.44L322.56 393.9L321.52 392.76L323.04 392.45zM325.8 402.6L326.56 403.95L328.08 404.26L327.04 405.4L327.21 406.94L325.8 406.3L324.39 406.94L324.56 405.4L323.52 404.26L325.04 403.95zM327.7 430.7L328.46 432.05L329.98 432.36L328.94 433.5L329.11 435.04L327.7 434.4L326.29 435.04L326.46 433.5L325.42 432.36L326.94 432.05zM329.6 383.9L330.36 385.25L331.88 385.56L330.84 386.7L331.01 388.24L329.6 387.6L328.19 388.24L328.36 386.7L327.32 385.56L328.84 385.25zM331.5 392.6L332.26 393.95L333.78 394.26L332.74 395.4L332.91 396.94L331.5 396.3L330.09 396.94L330.26 395.4L329.22 394.26L330.74 393.95zM334 395.6L334.76 396.95L336.28 397.26L335.24 398.4L335.41 399.94L334 399.3L332.59 399.94L332.76 398.4L331.72 397.26L333.24 396.95zM336 399.9L336.76 401.25L338.28 401.56L337.24 402.7L337.41 404.24L336 403.6L334.59 404.24L334.76 402.7L333.72 401.56L335.24 401.25zM338.5 407.6L339.26 408.95L340.78 409.26L339.74 410.4L339.91 411.94L338.5 411.3L337.09 411.94L337.26 410.4L336.22 409.26L337.74 408.95zM340.4 427.6L341.16 428.95L342.68 429.26L341.64 430.4L341.81 431.94L340.4 431.3L338.99 431.94L339.16 430.4L338.12 429.26L339.64 428.95zM341.9 411.4L342.66 412.75L344.18 413.06L343.14 414.2L343.31 415.74L341.9 415.1L340.49 415.74L340.66 414.2L339.62 413.06L341.14 412.75zM344.2 421.1L344.96 422.45L346.48 422.76L345.44 423.9L345.61 425.44L344.2 424.8L342.79 425.44L342.96 423.9L341.92 422.76L343.44 422.45zM346.2 407L346.96 408.35L348.48 408.66L347.44 409.8L347.61 411.34L346.2 410.7L344.79 411.34L344.96 409.8L343.92 408.66L345.44 408.35zM348.5 414.7L349.26 416.05L350.78 416.36L349.74 417.5L349.91 419.04L348.5 418.4L347.09 419.04L347.26 417.5L346.22 416.36L347.74 416.05zM350.4 399.9L351.16 401.25L352.68 401.56L351.64 402.7L351.81 404.24L350.4 403.6L348.99 404.24L349.16 402.7L348.12 401.56L349.64 401.25zM352.3 421.8L353.06 423.15L354.58 423.46L353.54 424.6L353.71 426.14L352.3 425.5L350.89 426.14L351.06 424.6L350.02 423.46L351.54 423.15zM354.2 417.2L354.96 418.55L356.48 418.86L355.44 420L355.61 421.54L354.2 420.9L352.79 421.54L352.96 420L351.92 418.86L353.44 418.55zM356.5 422.4L357.26 423.75L358.78 424.06L357.74 425.2L357.91 426.74L356.5 426.1L355.09 426.74L355.26 425.2L354.22 424.06L355.74 423.75zM358.1 394.1L358.86 395.45L360.38 395.76L359.34 396.9L359.51 398.44L358.1 397.8L356.69 398.44L356.86 396.9L355.82 395.76L357.34 395.45zM360.4 428.2L361.16 429.55L362.68 429.86L361.64 431L361.81 432.54L360.4 431.9L358.99 432.54L359.16 431L358.12 429.86L359.64 429.55zM362.3 446.8L363.06 448.15L364.58 448.46L363.54 449.6L363.71 451.14L362.3 450.5L360.89 451.14L361.06 449.6L360.02 448.46L361.54 448.15zM364.8 410.3L365.56 411.65L367.08 411.96L366.04 413.1L366.21 414.64L364.8 414L363.39 414.64L363.56 413.1L362.52 411.96L364.04 411.65zM367.3 414.1L368.06 415.45L369.58 415.76L368.54 416.9L368.71 418.44L367.3 417.8L365.89 418.44L366.06 416.9L365.02 415.76L366.54 415.45zM369.5 437.6L370.26 438.95L371.78 439.26L370.74 440.4L370.91 441.94L369.5 441.3L368.09 441.94L368.26 440.4L367.22 439.26L368.74 438.95zM370.6 461.8L371.36 463.15L372.88 463.46L371.84 464.6L372.01 466.14L370.6 465.5L369.19 466.14L369.36 464.6L368.32 463.46L369.84 463.15zM372.5 408.9L373.26 410.25L374.78 410.56L373.74 411.7L373.91 413.24L372.5 412.6L371.09 413.24L371.26 411.7L370.22 410.56L371.74 410.25zM375 443.6L375.76 444.95L377.28 445.26L376.24 446.4L376.41 447.94L375 447.3L373.59 447.94L373.76 446.4L372.72 445.26L374.24 444.95zM376.9 458L377.66 459.35L379.18 459.66L378.14 460.8L378.31 462.34L376.9 461.7L375.49 462.34L375.66 460.8L374.62 459.66L376.14 459.35zM378.8 462.2L379.56 463.55L381.08 463.86L380.04 465L380.21 466.54L378.8 465.9L377.39 466.54L377.56 465L376.52 463.86L378.04 463.55zM380.8 443.6L381.56 444.95L383.08 445.26L382.04 446.4L382.21 447.94L380.8 447.3L379.39 447.94L379.56 446.4L378.52 445.26L380.04 444.95zM383.1 458L383.86 459.35L385.38 459.66L384.34 460.8L384.51 462.34L383.1 461.7L381.69 462.34L381.86 460.8L380.82 459.66L382.34 459.35zM385.6 393L386.36 394.35L387.88 394.66L386.84 395.8L387.01 397.34L385.6 396.7L384.19 397.34L384.36 395.8L383.32 394.66L384.84 394.35zM388.9 357.8L389.66 359.15L391.18 359.46L390.14 360.6L390.31 362.14L388.9 361.5L387.49 362.14L387.66 360.6L386.62 359.46L388.14 359.15zM390.8 401.4L391.56 402.75L393.08 403.06L392.04 404.2L392.21 405.74L390.8 405.1L389.39 405.74L389.56 404.2L388.52 403.06L390.04 402.75zM393.3 421.6L394.06 422.95L395.58 423.26L394.54 424.4L394.71 425.94L393.3 425.3L391.89 425.94L392.06 424.4L391.02 423.26L392.54 422.95zM395 388.7L395.76 390.05L397.28 390.36L396.24 391.5L396.41 393.04L395 392.4L393.59 393.04L393.76 391.5L392.72 390.36L394.24 390.05zM397.7 411.2L398.46 412.55L399.98 412.86L398.94 414L399.11 415.54L397.7 414.9L396.29 415.54L396.46 414L395.42 412.86L396.94 412.55zM399 425.7L399.76 427.05L401.28 427.36L400.24 428.5L400.41 430.04L399 429.4L397.59 430.04L397.76 428.5L396.72 427.36L398.24 427.05zM401.5 425.1L402.26 426.45L403.78 426.76L402.74 427.9L402.91 429.44L401.5 428.8L400.09 429.44L400.26 427.9L399.22 426.76L400.74 426.45zM403.6 417.3L404.36 418.65L405.88 418.96L404.84 420.1L405.01 421.64L403.6 421L402.19 421.64L402.36 420.1L401.32 418.96L402.84 418.65zM406 406.6L406.76 407.95L408.28 408.26L407.24 409.4L407.41 410.94L406 410.3L404.59 410.94L404.76 409.4L403.72 408.26L405.24 407.95zM408.1 396.1L408.86 397.45L410.38 397.76L409.34 398.9L409.51 400.44L408.1 399.8L406.69 400.44L406.86 398.9L405.82 397.76L407.34 397.45zM409.6 358.9L410.36 360.25L411.88 360.56L410.84 361.7L411.01 363.24L409.6 362.6L408.19 363.24L408.36 361.7L407.32 360.56L408.84 360.25zM411.9 390.3L412.66 391.65L414.18 391.96L413.14 393.1L413.31 394.64L411.9 394L410.49 394.64L410.66 393.1L409.62 391.96L411.14 391.65zM413.8 362.2L414.56 363.55L416.08 363.86L415.04 365L415.21 366.54L413.8 365.9L412.39 366.54L412.56 365L411.52 363.86L413.04 363.55zM415.8 363.6L416.56 364.95L418.08 365.26L417.04 366.4L417.21 367.94L415.8 367.3L414.39 367.94L414.56 366.4L413.52 365.26L415.04 364.95zM417.7 365.3L418.46 366.65L419.98 366.96L418.94 368.1L419.11 369.64L417.7 369L416.29 369.64L416.46 368.1L415.42 366.96L416.94 366.65zM419.6 395.5L420.36 396.85L421.88 397.16L420.84 398.3L421.01 399.84L419.6 399.2L418.19 399.84L418.36 398.3L417.32 397.16L418.84 396.85zM421.6 411.1L422.36 412.45L423.88 412.76L422.84 413.9L423.01 415.44L421.6 414.8L420.19 415.44L420.36 413.9L419.32 412.76L420.84 412.45zM423.6 396.6L424.36 397.95L425.88 398.26L424.84 399.4L425.01 400.94L423.6 400.3L422.19 400.94L422.36 399.4L421.32 398.26L422.84 397.95zM426 424.1L426.76 425.45L428.28 425.76L427.24 426.9L427.41 428.44L426 427.8L424.59 428.44L424.76 426.9L423.72 425.76L425.24 425.45zM427.9 427.6L428.66 428.95L430.18 429.26L429.14 430.4L429.31 431.94L427.9 431.3L426.49 431.94L426.66 430.4L425.62 429.26L427.14 428.95zM430.8 403.8L431.56 405.15L433.08 405.46L432.04 406.6L432.21 408.14L430.8 407.5L429.39 408.14L429.56 406.6L428.52 405.46L430.04 405.15zM432.3 399.2L433.06 400.55L434.58 400.86L433.54 402L433.71 403.54L432.3 402.9L430.89 403.54L431.06 402L430.02 400.86L431.54 400.55zM434.6 416.4L435.36 417.75L436.88 418.06L435.84 419.2L436.01 420.74L434.6 420.1L433.19 420.74L433.36 419.2L432.32 418.06L433.84 417.75zM436.3 409.1L437.06 410.45L438.58 410.76L437.54 411.9L437.71 413.44L436.3 412.8L434.89 413.44L435.06 411.9L434.02 410.76L435.54 410.45zM438.1 374.3L438.86 375.65L440.38 375.96L439.34 377.1L439.51 378.64L438.1 378L436.69 378.64L436.86 377.1L435.82 375.96L437.34 375.65zM440.4 405.8L441.16 407.15L442.68 407.46L441.64 408.6L441.81 410.14L440.4 409.5L438.99 410.14L439.16 408.6L438.12 407.46L439.64 407.15zM442.5 414.6L443.26 415.95L444.78 416.26L443.74 417.4L443.91 418.94L442.5 418.3L441.09 418.94L441.26 417.4L440.22 416.26L441.74 415.95zM444.6 427.6L445.36 428.95L446.88 429.26L445.84 430.4L446.01 431.94L444.6 431.3L443.19 431.94L443.36 430.4L442.32 429.26L443.84 428.95zM447.1 434.7L447.86 436.05L449.38 436.36L448.34 437.5L448.51 439.04L447.1 438.4L445.69 439.04L445.86 437.5L444.82 436.36L446.34 436.05zM448.5 433.8L449.26 435.15L450.78 435.46L449.74 436.6L449.91 438.14L448.5 437.5L447.09 438.14L447.26 436.6L446.22 435.46L447.74 435.15zM451 415.6L451.76 416.95L453.28 417.26L452.24 418.4L452.41 419.94L451 419.3L449.59 419.94L449.76 418.4L448.72 417.26L450.24 416.95zM452.9 425.7L453.66 427.05L455.18 427.36L454.14 428.5L454.31 430.04L452.9 429.4L451.49 430.04L451.66 428.5L450.62 427.36L452.14 427.05zM455.4 444.9L456.16 446.25L457.68 446.56L456.64 447.7L456.81 449.24L455.4 448.6L453.99 449.24L454.16 447.7L453.12 446.56L454.64 446.25zM458.7 437.2L459.46 438.55L460.98 438.86L459.94 440L460.11 441.54L458.7 440.9L457.29 441.54L457.46 440L456.42 438.86L457.94 438.55zM460.6 447.6L461.36 448.95L462.88 449.26L461.84 450.4L462.01 451.94L460.6 451.3L459.19 451.94L459.36 450.4L458.32 449.26L459.84 448.95zM462.5 436.6L463.26 437.95L464.78 438.26L463.74 439.4L463.91 440.94L462.5 440.3L461.09 440.94L461.26 439.4L460.22 438.26L461.74 437.95zM465.6 422.8L466.36 424.15L467.88 424.46L466.84 425.6L467.01 427.14L465.6 426.5L464.19 427.14L464.36 425.6L463.32 424.46L464.84 424.15zM466.9 428.9L467.66 430.25L469.18 430.56L468.14 431.7L468.31 433.24L466.9 432.6L465.49 433.24L465.66 431.7L464.62 430.56L466.14 430.25z" fill="#16641e"/>
</g>
<path d="M57.7 8.2H508.1V496.9H57.7Z" stroke="#333" stroke-width="1.6" fill="none"/>
<path d="M57.7 252H508.1" stroke="#333" stroke-width="1.6"/>
<path d="M57.7 224.91h-5.5M57.7 197.82h-5.5M57.7 170.73h-5.5M57.7 143.64h-5.5M57.7 116.56h-5.5M57.7 89.47h-5.5M57.7 62.38h-5.5M57.7 35.29h-5.5M57.7 8.2h-5.5M57.7 238.46h-2.8M57.7 211.37h-2.8M57.7 184.28h-2.8M57.7 157.19h-2.8M57.7 130.1h-2.8M57.7 103.01h-2.8M57.7 75.92h-2.8M57.7 48.83h-2.8M57.7 21.74h-2.8M57.7 472.41h-5.5M57.7 423.43h-5.5M57.7 374.45h-5.5M57.7 325.47h-5.5M57.7 276.49h-5.5M57.7 496.9h-2.8M57.7 447.92h-2.8M57.7 398.94h-2.8M57.7 349.96h-2.8M57.7 300.98h-2.8M57.65 496.9v3M98.6 496.9v5M139.55 496.9v3M180.5 496.9v5M221.45 496.9v3M262.4 496.9v5M303.35 496.9v3M344.3 496.9v5M385.25 496.9v3M426.2 496.9v5M467.15 496.9v3M508.1 496.9v5M57.65 252v3M98.6 252v5M139.55 252v3M180.5 252v5M221.45 252v3M262.4 252v5M303.35 252v3M344.3 252v5M385.25 252v3M426.2 252v5M467.15 252v3M508.1 252v5" stroke="#333" stroke-width="1.4"/>
<rect x="142.6" y="225.5" width="285.6" height="53.5" fill="#fff" stroke="#a0a0a0" stroke-width="1"/>
<path d="M144.5 238.2H184.5" stroke="rgba(235,90,90,0.6)" stroke-width="1"/>
<path d="M144.5 262.9H184.5" stroke="rgba(70,190,70,0.45)" stroke-width="1"/>
<path d="M162.3 236h4.4v4.4h-4.4z" fill="#d8141e"/>
<path d="M164.5 260.5L165.26 261.85L166.78 262.16L165.74 263.3L165.91 264.84L164.5 264.2L163.09 264.84L163.26 263.3L162.22 262.16L163.74 261.85z" fill="#16641e"/>
<text font-family="'Liberation Sans', sans-serif" font-size="18.12" x="190.5" y="244.6" fill="#000">Energy barrier from CSM (<tspan font-style="italic">W</tspan>)</text>
<text font-family="'Liberation Sans', sans-serif" font-size="18.12" x="190.5" y="268.2" fill="#000">Elastic energy at yield (<tspan font-style="italic">U</tspan><tspan font-size="12" dx="0.6" dy="5">c</tspan><tspan dy="-5"> </tspan><tspan font-style="italic" dx="1.2">Ω</tspan>)</text>
<text font-family="'Liberation Sans', sans-serif" font-size="16" fill="#000" text-anchor="end" x="48.3" y="230.51">0.4</text>
<text font-family="'Liberation Sans', sans-serif" font-size="16" fill="#000" text-anchor="end" x="48.3" y="203.42">0.5</text>
<text font-family="'Liberation Sans', sans-serif" font-size="16" fill="#000" text-anchor="end" x="48.3" y="176.33">0.6</text>
<text font-family="'Liberation Sans', sans-serif" font-size="16" fill="#000" text-anchor="end" x="48.3" y="149.24">0.7</text>
<text font-family="'Liberation Sans', sans-serif" font-size="16" fill="#000" text-anchor="end" x="48.3" y="122.16">0.8</text>
<text font-family="'Liberation Sans', sans-serif" font-size="16" fill="#000" text-anchor="end" x="48.3" y="95.07">0.9</text>
<text font-family="'Liberation Sans', sans-serif" font-size="16" fill="#000" text-anchor="end" x="48.3" y="67.98">1.0</text>
<text font-family="'Liberation Sans', sans-serif" font-size="16" fill="#000" text-anchor="end" x="48.3" y="40.89">1.1</text>
<text font-family="'Liberation Sans', sans-serif" font-size="16" fill="#000" text-anchor="end" x="48.3" y="13.8">1.2</text>
<text font-family="'Liberation Sans', sans-serif" font-size="16" fill="#000" text-anchor="end" x="48.3" y="478.01">0.1</text>
<text font-family="'Liberation Sans', sans-serif" font-size="16" fill="#000" text-anchor="end" x="48.3" y="429.03">0.2</text>
<text font-family="'Liberation Sans', sans-serif" font-size="16" fill="#000" text-anchor="end" x="48.3" y="380.05">0.3</text>
<text font-family="'Liberation Sans', sans-serif" font-size="16" fill="#000" text-anchor="end" x="48.3" y="331.07">0.4</text>
<text font-family="'Liberation Sans', sans-serif" font-size="16" fill="#000" text-anchor="end" x="48.3" y="282.09">0.5</text>
<text font-family="'Liberation Sans', sans-serif" font-size="16" fill="#000" text-anchor="middle" x="98.6" y="518.3">0.0</text>
<text font-family="'Liberation Sans', sans-serif" font-size="16" fill="#000" text-anchor="middle" x="180.5" y="518.3">0.2</text>
<text font-family="'Liberation Sans', sans-serif" font-size="16" fill="#000" text-anchor="middle" x="262.4" y="518.3">0.4</text>
<text font-family="'Liberation Sans', sans-serif" font-size="16" fill="#000" text-anchor="middle" x="344.3" y="518.3">0.6</text>
<text font-family="'Liberation Sans', sans-serif" font-size="16" fill="#000" text-anchor="middle" x="426.2" y="518.3">0.8</text>
<text font-family="'Liberation Sans', sans-serif" font-size="16" fill="#000" text-anchor="middle" x="508.1" y="518.3">1.0</text>
<text font-family="'Liberation Sans', sans-serif" font-size="19.5" fill="#000" text-anchor="middle" transform="translate(16.2 130.1) rotate(-90)">Energy (eV)</text>
<text font-family="'Liberation Sans', sans-serif" font-size="19.5" fill="#000" text-anchor="middle" transform="translate(16.2 374.45) rotate(-90)">Energy (eV)</text>
<text font-family="'Liberation Sans', sans-serif" font-size="18.8" fill="#000" text-anchor="middle" x="283.2" y="546.6">Z (mm)</text>
<text font-family="'Liberation Sans', sans-serif" font-size="21" fill="#000" x="68.3" y="36.3">(a)</text>
<text font-family="'Liberation Sans', sans-serif" font-size="21" fill="#000" x="68.3" y="279.2">(b)</text>
<rect x="438" y="14" width="68" height="20" fill="#fff"/>
<text font-family="'Liberation Sans', sans-serif" font-size="19.5" fill="#000" text-anchor="end" x="503" y="29.7">as-cast</text>
<text font-family="'Liberation Sans', sans-serif" font-size="19.5" fill="#000" text-anchor="end" x="503.5" y="487.6">imprinted</text>
</g>
</svg>
</body></html>
